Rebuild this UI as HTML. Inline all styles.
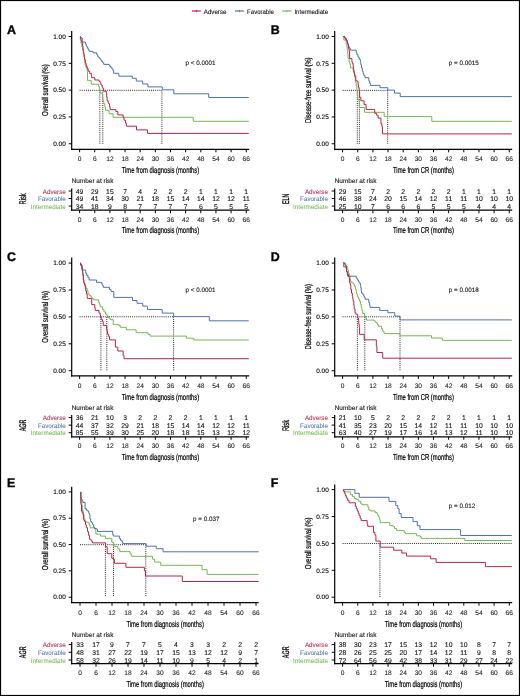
<!DOCTYPE html>
<html><head><meta charset="utf-8"><style>
html,body{margin:0;padding:0;background:#fff;}
body{width:520px;height:696px;overflow:hidden;}
svg{display:block;font-family:"Liberation Sans", sans-serif;filter:blur(0.35px);text-rendering:geometricPrecision;}
</style></head><body>
<svg width="520" height="696" viewBox="0 0 520 696">
<rect x="0.5" y="0.5" width="519" height="695" fill="#fff" stroke="#000" stroke-width="1.2"/>
<text x="6.90" y="34.00" font-size="12.4" text-anchor="start" fill="#000" stroke="#000" font-weight="bold" stroke-width="0.35" >A</text>
<line x1="71.70" y1="31.00" x2="71.70" y2="149.90" stroke="#000" stroke-width="1.2" />
<line x1="68.70" y1="143.75" x2="71.70" y2="143.75" stroke="#000" stroke-width="1.0" />
<text x="65.75" y="145.95" font-size="6.45" text-anchor="end" fill="#000" stroke="#000" font-weight="normal" stroke-width="0.1" >0.00</text>
<line x1="68.70" y1="116.94" x2="71.70" y2="116.94" stroke="#000" stroke-width="1.0" />
<text x="65.75" y="119.14" font-size="6.45" text-anchor="end" fill="#000" stroke="#000" font-weight="normal" stroke-width="0.1" >0.25</text>
<line x1="68.70" y1="90.12" x2="71.70" y2="90.12" stroke="#000" stroke-width="1.0" />
<text x="65.75" y="92.33" font-size="6.45" text-anchor="end" fill="#000" stroke="#000" font-weight="normal" stroke-width="0.1" >0.50</text>
<line x1="68.70" y1="63.31" x2="71.70" y2="63.31" stroke="#000" stroke-width="1.0" />
<text x="65.75" y="65.51" font-size="6.45" text-anchor="end" fill="#000" stroke="#000" font-weight="normal" stroke-width="0.1" >0.75</text>
<line x1="68.70" y1="36.50" x2="71.70" y2="36.50" stroke="#000" stroke-width="1.0" />
<text x="65.75" y="38.70" font-size="6.45" text-anchor="end" fill="#000" stroke="#000" font-weight="normal" stroke-width="0.1" >1.00</text>
<line x1="71.10" y1="149.30" x2="249.20" y2="149.30" stroke="#000" stroke-width="1.2" />
<line x1="79.60" y1="149.30" x2="79.60" y2="152.30" stroke="#000" stroke-width="1.0" />
<text x="79.60" y="161.40" font-size="6.6" text-anchor="middle" fill="#222" stroke="#222" font-weight="normal" stroke-width="0.1" >0</text>
<line x1="94.75" y1="149.30" x2="94.75" y2="152.30" stroke="#000" stroke-width="1.0" />
<text x="94.75" y="161.40" font-size="6.6" text-anchor="middle" fill="#222" stroke="#222" font-weight="normal" stroke-width="0.1" >6</text>
<line x1="109.90" y1="149.30" x2="109.90" y2="152.30" stroke="#000" stroke-width="1.0" />
<text x="109.90" y="161.40" font-size="6.6" text-anchor="middle" fill="#222" stroke="#222" font-weight="normal" stroke-width="0.1" >12</text>
<line x1="125.05" y1="149.30" x2="125.05" y2="152.30" stroke="#000" stroke-width="1.0" />
<text x="125.05" y="161.40" font-size="6.6" text-anchor="middle" fill="#222" stroke="#222" font-weight="normal" stroke-width="0.1" >18</text>
<line x1="140.20" y1="149.30" x2="140.20" y2="152.30" stroke="#000" stroke-width="1.0" />
<text x="140.20" y="161.40" font-size="6.6" text-anchor="middle" fill="#222" stroke="#222" font-weight="normal" stroke-width="0.1" >24</text>
<line x1="155.35" y1="149.30" x2="155.35" y2="152.30" stroke="#000" stroke-width="1.0" />
<text x="155.35" y="161.40" font-size="6.6" text-anchor="middle" fill="#222" stroke="#222" font-weight="normal" stroke-width="0.1" >30</text>
<line x1="170.50" y1="149.30" x2="170.50" y2="152.30" stroke="#000" stroke-width="1.0" />
<text x="170.50" y="161.40" font-size="6.6" text-anchor="middle" fill="#222" stroke="#222" font-weight="normal" stroke-width="0.1" >36</text>
<line x1="185.65" y1="149.30" x2="185.65" y2="152.30" stroke="#000" stroke-width="1.0" />
<text x="185.65" y="161.40" font-size="6.6" text-anchor="middle" fill="#222" stroke="#222" font-weight="normal" stroke-width="0.1" >42</text>
<line x1="200.80" y1="149.30" x2="200.80" y2="152.30" stroke="#000" stroke-width="1.0" />
<text x="200.80" y="161.40" font-size="6.6" text-anchor="middle" fill="#222" stroke="#222" font-weight="normal" stroke-width="0.1" >48</text>
<line x1="215.95" y1="149.30" x2="215.95" y2="152.30" stroke="#000" stroke-width="1.0" />
<text x="215.95" y="161.40" font-size="6.6" text-anchor="middle" fill="#222" stroke="#222" font-weight="normal" stroke-width="0.1" >54</text>
<line x1="231.10" y1="149.30" x2="231.10" y2="152.30" stroke="#000" stroke-width="1.0" />
<text x="231.10" y="161.40" font-size="6.6" text-anchor="middle" fill="#222" stroke="#222" font-weight="normal" stroke-width="0.1" >60</text>
<line x1="246.25" y1="149.30" x2="246.25" y2="152.30" stroke="#000" stroke-width="1.0" />
<text x="246.25" y="161.40" font-size="6.6" text-anchor="middle" fill="#222" stroke="#222" font-weight="normal" stroke-width="0.1" >66</text>
<text x="160.45" y="173.10" font-size="8.6" text-anchor="middle" fill="#000" stroke="#000" font-weight="normal" stroke-width="0.22" textLength="77.5" lengthAdjust="spacingAndGlyphs">Time from diagnosis (months)</text>
<text transform="translate(47.90,90.20) rotate(-90)" x="0" y="0" font-size="8.6" stroke="#000" stroke-width="0.22" text-anchor="middle" textLength="51.7" lengthAdjust="spacingAndGlyphs">Overall survival (%)</text>
<text x="185.60" y="65.30" font-size="6.3" text-anchor="start" fill="#111" stroke="#111" font-weight="normal" stroke-width="0.1" >p &lt; 0.0001</text>
<path d="M79.6,90.3H161.9" stroke="#111" stroke-width="0.9" stroke-dasharray="1,1.1" fill="none"/>
<path d="M99.8,90.3V143.75" stroke="#111" stroke-width="0.9" stroke-dasharray="1,1.1" fill="none"/>
<path d="M102.8,90.3V143.75" stroke="#111" stroke-width="0.9" stroke-dasharray="1,1.1" fill="none"/>
<path d="M161.9,90.3V143.75" stroke="#111" stroke-width="0.9" stroke-dasharray="1,1.1" fill="none"/>
<path d="M80.40,36.50H80.40V40.00H81.00V43.50H81.80V47.00H82.50V50.00H83.20V53.50H83.90V57.00H84.60V61.00H85.20V64.80H86.10V67.80H87.20V71.50H87.50V80.60H91.30V84.20H98.60V86.50H99.40V88.10H99.80V90.80H100.20V93.10H102.10V94.20H102.50V96.90H102.80V100.80H103.80V103.80H104.80V106.70H105.30V110.30H109.10V113.70H113.00V117.30H193.20V121.30H248.80V121.30" stroke="#74b854" stroke-width="1" fill="none"/>
<path d="M80.40,36.50H80.40V38.50H81.00V40.50H81.50V42.10H85.50V44.00H86.30V46.00H87.10V47.50H87.90V49.00H88.70V50.50H89.20V51.30H93.00V52.80H96.80V54.80H97.60V56.30H98.40V57.40H99.50V58.60H100.70V60.20H101.80V61.70H103.00V63.20H103.80V64.40H109.20V65.50H110.00V66.70H111.10V67.80H112.20V69.00H113.00V70.50H113.60V73.30H118.80V76.20H132.30V78.30H136.30V81.10H142.70V84.00H147.90V86.90H162.30V89.80H173.80V93.80H208.70V97.50H248.80V97.50" stroke="#5270aa" stroke-width="1" fill="none"/>
<path d="M80.40,36.50H80.50V37.50H81.50V38.20H82.20V42.50H82.60V46.00H83.00V49.40H83.40V51.60H83.80V54.00H84.20V56.70H84.50V59.40H85.30V63.20H86.10V66.30H87.20V68.60H88.10V70.50H88.60V71.50H89.80V73.50H91.30V75.40H91.70V77.70H94.80V80.00H99.00V81.50H100.20V82.70H100.90V85.00H102.10V86.90H102.80V88.50H103.60V91.20H106.30V93.10H106.70V96.90H107.10V100.80H108.20V103.10H108.70V103.80H109.60V106.70H110.10V109.60H115.90V111.50H117.80V114.90H123.10V117.30H124.00V120.20H125.50V123.10H126.40V126.20H136.50V129.90H147.60V133.40H248.80V133.40" stroke="#bb2347" stroke-width="1" fill="none"/>
<text x="71.70" y="183.40" font-size="6.45" text-anchor="start" fill="#111" stroke="#111" font-weight="normal" stroke-width="0.1" >Number at risk</text>
<line x1="71.70" y1="188.50" x2="71.70" y2="210.80" stroke="#000" stroke-width="1.2" />
<line x1="71.10" y1="210.20" x2="249.20" y2="210.20" stroke="#000" stroke-width="1.2" />
<line x1="79.60" y1="210.20" x2="79.60" y2="213.20" stroke="#000" stroke-width="1.0" />
<text x="79.60" y="221.80" font-size="6.6" text-anchor="middle" fill="#222" stroke="#222" font-weight="normal" stroke-width="0.1" >0</text>
<line x1="94.75" y1="210.20" x2="94.75" y2="213.20" stroke="#000" stroke-width="1.0" />
<text x="94.75" y="221.80" font-size="6.6" text-anchor="middle" fill="#222" stroke="#222" font-weight="normal" stroke-width="0.1" >6</text>
<line x1="109.90" y1="210.20" x2="109.90" y2="213.20" stroke="#000" stroke-width="1.0" />
<text x="109.90" y="221.80" font-size="6.6" text-anchor="middle" fill="#222" stroke="#222" font-weight="normal" stroke-width="0.1" >12</text>
<line x1="125.05" y1="210.20" x2="125.05" y2="213.20" stroke="#000" stroke-width="1.0" />
<text x="125.05" y="221.80" font-size="6.6" text-anchor="middle" fill="#222" stroke="#222" font-weight="normal" stroke-width="0.1" >18</text>
<line x1="140.20" y1="210.20" x2="140.20" y2="213.20" stroke="#000" stroke-width="1.0" />
<text x="140.20" y="221.80" font-size="6.6" text-anchor="middle" fill="#222" stroke="#222" font-weight="normal" stroke-width="0.1" >24</text>
<line x1="155.35" y1="210.20" x2="155.35" y2="213.20" stroke="#000" stroke-width="1.0" />
<text x="155.35" y="221.80" font-size="6.6" text-anchor="middle" fill="#222" stroke="#222" font-weight="normal" stroke-width="0.1" >30</text>
<line x1="170.50" y1="210.20" x2="170.50" y2="213.20" stroke="#000" stroke-width="1.0" />
<text x="170.50" y="221.80" font-size="6.6" text-anchor="middle" fill="#222" stroke="#222" font-weight="normal" stroke-width="0.1" >36</text>
<line x1="185.65" y1="210.20" x2="185.65" y2="213.20" stroke="#000" stroke-width="1.0" />
<text x="185.65" y="221.80" font-size="6.6" text-anchor="middle" fill="#222" stroke="#222" font-weight="normal" stroke-width="0.1" >42</text>
<line x1="200.80" y1="210.20" x2="200.80" y2="213.20" stroke="#000" stroke-width="1.0" />
<text x="200.80" y="221.80" font-size="6.6" text-anchor="middle" fill="#222" stroke="#222" font-weight="normal" stroke-width="0.1" >48</text>
<line x1="215.95" y1="210.20" x2="215.95" y2="213.20" stroke="#000" stroke-width="1.0" />
<text x="215.95" y="221.80" font-size="6.6" text-anchor="middle" fill="#222" stroke="#222" font-weight="normal" stroke-width="0.1" >54</text>
<line x1="231.10" y1="210.20" x2="231.10" y2="213.20" stroke="#000" stroke-width="1.0" />
<text x="231.10" y="221.80" font-size="6.6" text-anchor="middle" fill="#222" stroke="#222" font-weight="normal" stroke-width="0.1" >60</text>
<line x1="246.25" y1="210.20" x2="246.25" y2="213.20" stroke="#000" stroke-width="1.0" />
<text x="246.25" y="221.80" font-size="6.6" text-anchor="middle" fill="#222" stroke="#222" font-weight="normal" stroke-width="0.1" >66</text>
<line x1="68.70" y1="191.00" x2="71.70" y2="191.00" stroke="#000" stroke-width="1.0" />
<text x="65.80" y="193.75" font-size="6.55" text-anchor="end" fill="#bb2347" stroke="#bb2347" font-weight="normal" stroke-width="0.04" textLength="23.1" lengthAdjust="spacingAndGlyphs">Adverse</text>
<text x="79.60" y="193.70" font-size="6.8" text-anchor="middle" fill="#111" stroke="#111" font-weight="normal" stroke-width="0.1" >49</text>
<text x="94.75" y="193.70" font-size="6.8" text-anchor="middle" fill="#111" stroke="#111" font-weight="normal" stroke-width="0.1" >29</text>
<text x="109.90" y="193.70" font-size="6.8" text-anchor="middle" fill="#111" stroke="#111" font-weight="normal" stroke-width="0.1" >15</text>
<text x="125.05" y="193.70" font-size="6.8" text-anchor="middle" fill="#111" stroke="#111" font-weight="normal" stroke-width="0.1" >7</text>
<text x="140.20" y="193.70" font-size="6.8" text-anchor="middle" fill="#111" stroke="#111" font-weight="normal" stroke-width="0.1" >4</text>
<text x="155.35" y="193.70" font-size="6.8" text-anchor="middle" fill="#111" stroke="#111" font-weight="normal" stroke-width="0.1" >2</text>
<text x="170.50" y="193.70" font-size="6.8" text-anchor="middle" fill="#111" stroke="#111" font-weight="normal" stroke-width="0.1" >2</text>
<text x="185.65" y="193.70" font-size="6.8" text-anchor="middle" fill="#111" stroke="#111" font-weight="normal" stroke-width="0.1" >2</text>
<text x="200.80" y="193.70" font-size="6.8" text-anchor="middle" fill="#111" stroke="#111" font-weight="normal" stroke-width="0.1" >1</text>
<text x="215.95" y="193.70" font-size="6.8" text-anchor="middle" fill="#111" stroke="#111" font-weight="normal" stroke-width="0.1" >1</text>
<text x="231.10" y="193.70" font-size="6.8" text-anchor="middle" fill="#111" stroke="#111" font-weight="normal" stroke-width="0.1" >1</text>
<text x="246.25" y="193.70" font-size="6.8" text-anchor="middle" fill="#111" stroke="#111" font-weight="normal" stroke-width="0.1" >1</text>
<line x1="68.70" y1="198.50" x2="71.70" y2="198.50" stroke="#000" stroke-width="1.0" />
<text x="65.80" y="201.25" font-size="6.55" text-anchor="end" fill="#5270aa" stroke="#5270aa" font-weight="normal" stroke-width="0.04" textLength="27.9" lengthAdjust="spacingAndGlyphs">Favorable</text>
<text x="79.60" y="201.20" font-size="6.8" text-anchor="middle" fill="#111" stroke="#111" font-weight="normal" stroke-width="0.1" >49</text>
<text x="94.75" y="201.20" font-size="6.8" text-anchor="middle" fill="#111" stroke="#111" font-weight="normal" stroke-width="0.1" >41</text>
<text x="109.90" y="201.20" font-size="6.8" text-anchor="middle" fill="#111" stroke="#111" font-weight="normal" stroke-width="0.1" >34</text>
<text x="125.05" y="201.20" font-size="6.8" text-anchor="middle" fill="#111" stroke="#111" font-weight="normal" stroke-width="0.1" >30</text>
<text x="140.20" y="201.20" font-size="6.8" text-anchor="middle" fill="#111" stroke="#111" font-weight="normal" stroke-width="0.1" >21</text>
<text x="155.35" y="201.20" font-size="6.8" text-anchor="middle" fill="#111" stroke="#111" font-weight="normal" stroke-width="0.1" >18</text>
<text x="170.50" y="201.20" font-size="6.8" text-anchor="middle" fill="#111" stroke="#111" font-weight="normal" stroke-width="0.1" >15</text>
<text x="185.65" y="201.20" font-size="6.8" text-anchor="middle" fill="#111" stroke="#111" font-weight="normal" stroke-width="0.1" >14</text>
<text x="200.80" y="201.20" font-size="6.8" text-anchor="middle" fill="#111" stroke="#111" font-weight="normal" stroke-width="0.1" >14</text>
<text x="215.95" y="201.20" font-size="6.8" text-anchor="middle" fill="#111" stroke="#111" font-weight="normal" stroke-width="0.1" >12</text>
<text x="231.10" y="201.20" font-size="6.8" text-anchor="middle" fill="#111" stroke="#111" font-weight="normal" stroke-width="0.1" >12</text>
<text x="246.25" y="201.20" font-size="6.8" text-anchor="middle" fill="#111" stroke="#111" font-weight="normal" stroke-width="0.1" >11</text>
<line x1="68.70" y1="206.10" x2="71.70" y2="206.10" stroke="#000" stroke-width="1.0" />
<text x="65.80" y="208.85" font-size="6.55" text-anchor="end" fill="#74b854" stroke="#74b854" font-weight="normal" stroke-width="0.04" textLength="35.0" lengthAdjust="spacingAndGlyphs">Intermediate</text>
<text x="79.60" y="208.80" font-size="6.8" text-anchor="middle" fill="#111" stroke="#111" font-weight="normal" stroke-width="0.1" >34</text>
<text x="94.75" y="208.80" font-size="6.8" text-anchor="middle" fill="#111" stroke="#111" font-weight="normal" stroke-width="0.1" >18</text>
<text x="109.90" y="208.80" font-size="6.8" text-anchor="middle" fill="#111" stroke="#111" font-weight="normal" stroke-width="0.1" >9</text>
<text x="125.05" y="208.80" font-size="6.8" text-anchor="middle" fill="#111" stroke="#111" font-weight="normal" stroke-width="0.1" >8</text>
<text x="140.20" y="208.80" font-size="6.8" text-anchor="middle" fill="#111" stroke="#111" font-weight="normal" stroke-width="0.1" >7</text>
<text x="155.35" y="208.80" font-size="6.8" text-anchor="middle" fill="#111" stroke="#111" font-weight="normal" stroke-width="0.1" >7</text>
<text x="170.50" y="208.80" font-size="6.8" text-anchor="middle" fill="#111" stroke="#111" font-weight="normal" stroke-width="0.1" >7</text>
<text x="185.65" y="208.80" font-size="6.8" text-anchor="middle" fill="#111" stroke="#111" font-weight="normal" stroke-width="0.1" >7</text>
<text x="200.80" y="208.80" font-size="6.8" text-anchor="middle" fill="#111" stroke="#111" font-weight="normal" stroke-width="0.1" >6</text>
<text x="215.95" y="208.80" font-size="6.8" text-anchor="middle" fill="#111" stroke="#111" font-weight="normal" stroke-width="0.1" >5</text>
<text x="231.10" y="208.80" font-size="6.8" text-anchor="middle" fill="#111" stroke="#111" font-weight="normal" stroke-width="0.1" >5</text>
<text x="246.25" y="208.80" font-size="6.8" text-anchor="middle" fill="#111" stroke="#111" font-weight="normal" stroke-width="0.1" >5</text>
<text x="160.45" y="232.90" font-size="8.6" text-anchor="middle" fill="#000" stroke="#000" font-weight="normal" stroke-width="0.22" textLength="77.5" lengthAdjust="spacingAndGlyphs">Time from diagnosis (months)</text>
<text transform="translate(25.70,198.90) rotate(-90)" x="0" y="0" font-size="9.6" font-weight="normal" stroke="#000" stroke-width="0.3" text-anchor="middle" textLength="11.2" lengthAdjust="spacingAndGlyphs">Risk</text>
<text x="270.80" y="34.00" font-size="12.4" text-anchor="start" fill="#000" stroke="#000" font-weight="bold" stroke-width="0.35" >B</text>
<line x1="334.70" y1="31.00" x2="334.70" y2="149.90" stroke="#000" stroke-width="1.2" />
<line x1="331.70" y1="143.75" x2="334.70" y2="143.75" stroke="#000" stroke-width="1.0" />
<text x="328.75" y="145.95" font-size="6.45" text-anchor="end" fill="#000" stroke="#000" font-weight="normal" stroke-width="0.1" >0.00</text>
<line x1="331.70" y1="116.94" x2="334.70" y2="116.94" stroke="#000" stroke-width="1.0" />
<text x="328.75" y="119.14" font-size="6.45" text-anchor="end" fill="#000" stroke="#000" font-weight="normal" stroke-width="0.1" >0.25</text>
<line x1="331.70" y1="90.12" x2="334.70" y2="90.12" stroke="#000" stroke-width="1.0" />
<text x="328.75" y="92.33" font-size="6.45" text-anchor="end" fill="#000" stroke="#000" font-weight="normal" stroke-width="0.1" >0.50</text>
<line x1="331.70" y1="63.31" x2="334.70" y2="63.31" stroke="#000" stroke-width="1.0" />
<text x="328.75" y="65.51" font-size="6.45" text-anchor="end" fill="#000" stroke="#000" font-weight="normal" stroke-width="0.1" >0.75</text>
<line x1="331.70" y1="36.50" x2="334.70" y2="36.50" stroke="#000" stroke-width="1.0" />
<text x="328.75" y="38.70" font-size="6.45" text-anchor="end" fill="#000" stroke="#000" font-weight="normal" stroke-width="0.1" >1.00</text>
<line x1="334.10" y1="149.30" x2="512.20" y2="149.30" stroke="#000" stroke-width="1.2" />
<line x1="342.60" y1="149.30" x2="342.60" y2="152.30" stroke="#000" stroke-width="1.0" />
<text x="342.60" y="161.40" font-size="6.6" text-anchor="middle" fill="#222" stroke="#222" font-weight="normal" stroke-width="0.1" >0</text>
<line x1="357.75" y1="149.30" x2="357.75" y2="152.30" stroke="#000" stroke-width="1.0" />
<text x="357.75" y="161.40" font-size="6.6" text-anchor="middle" fill="#222" stroke="#222" font-weight="normal" stroke-width="0.1" >6</text>
<line x1="372.90" y1="149.30" x2="372.90" y2="152.30" stroke="#000" stroke-width="1.0" />
<text x="372.90" y="161.40" font-size="6.6" text-anchor="middle" fill="#222" stroke="#222" font-weight="normal" stroke-width="0.1" >12</text>
<line x1="388.05" y1="149.30" x2="388.05" y2="152.30" stroke="#000" stroke-width="1.0" />
<text x="388.05" y="161.40" font-size="6.6" text-anchor="middle" fill="#222" stroke="#222" font-weight="normal" stroke-width="0.1" >18</text>
<line x1="403.20" y1="149.30" x2="403.20" y2="152.30" stroke="#000" stroke-width="1.0" />
<text x="403.20" y="161.40" font-size="6.6" text-anchor="middle" fill="#222" stroke="#222" font-weight="normal" stroke-width="0.1" >24</text>
<line x1="418.35" y1="149.30" x2="418.35" y2="152.30" stroke="#000" stroke-width="1.0" />
<text x="418.35" y="161.40" font-size="6.6" text-anchor="middle" fill="#222" stroke="#222" font-weight="normal" stroke-width="0.1" >30</text>
<line x1="433.50" y1="149.30" x2="433.50" y2="152.30" stroke="#000" stroke-width="1.0" />
<text x="433.50" y="161.40" font-size="6.6" text-anchor="middle" fill="#222" stroke="#222" font-weight="normal" stroke-width="0.1" >36</text>
<line x1="448.65" y1="149.30" x2="448.65" y2="152.30" stroke="#000" stroke-width="1.0" />
<text x="448.65" y="161.40" font-size="6.6" text-anchor="middle" fill="#222" stroke="#222" font-weight="normal" stroke-width="0.1" >42</text>
<line x1="463.80" y1="149.30" x2="463.80" y2="152.30" stroke="#000" stroke-width="1.0" />
<text x="463.80" y="161.40" font-size="6.6" text-anchor="middle" fill="#222" stroke="#222" font-weight="normal" stroke-width="0.1" >48</text>
<line x1="478.95" y1="149.30" x2="478.95" y2="152.30" stroke="#000" stroke-width="1.0" />
<text x="478.95" y="161.40" font-size="6.6" text-anchor="middle" fill="#222" stroke="#222" font-weight="normal" stroke-width="0.1" >54</text>
<line x1="494.10" y1="149.30" x2="494.10" y2="152.30" stroke="#000" stroke-width="1.0" />
<text x="494.10" y="161.40" font-size="6.6" text-anchor="middle" fill="#222" stroke="#222" font-weight="normal" stroke-width="0.1" >60</text>
<line x1="509.25" y1="149.30" x2="509.25" y2="152.30" stroke="#000" stroke-width="1.0" />
<text x="509.25" y="161.40" font-size="6.6" text-anchor="middle" fill="#222" stroke="#222" font-weight="normal" stroke-width="0.1" >66</text>
<text x="423.45" y="173.10" font-size="8.6" text-anchor="middle" fill="#000" stroke="#000" font-weight="normal" stroke-width="0.22" textLength="60.9" lengthAdjust="spacingAndGlyphs">Time from CR (months)</text>
<text transform="translate(310.60,90.20) rotate(-90)" x="0" y="0" font-size="8.6" stroke="#000" stroke-width="0.22" text-anchor="middle" textLength="65.5" lengthAdjust="spacingAndGlyphs">Disease-free survival (%)</text>
<text x="448.80" y="65.30" font-size="6.3" text-anchor="start" fill="#111" stroke="#111" font-weight="normal" stroke-width="0.1" >p = 0.0015</text>
<path d="M342.6,90.4H387.7" stroke="#111" stroke-width="0.9" stroke-dasharray="1,1.1" fill="none"/>
<path d="M357.3,90.4V143.75" stroke="#111" stroke-width="0.9" stroke-dasharray="1,1.1" fill="none"/>
<path d="M359.4,90.4V143.75" stroke="#111" stroke-width="0.9" stroke-dasharray="1,1.1" fill="none"/>
<path d="M387.7,90.4V143.75" stroke="#111" stroke-width="0.9" stroke-dasharray="1,1.1" fill="none"/>
<path d="M343.40,36.50H343.80V40.20H346.20V44.00H346.90V47.10H347.30V49.40H347.70V54.00H348.10V58.60H349.20V62.50H350.00V64.80H350.40V67.80H353.10V70.20H353.80V72.50H354.20V74.00H355.00V77.70H355.40V82.30H356.20V85.40H356.90V90.00H357.30V95.40H357.70V99.20H358.80V100.80H359.30V107.50H364.60V112.30H384.20V116.60H431.80V121.30H511.80V121.30" stroke="#74b854" stroke-width="1" fill="none"/>
<path d="M343.40,36.50H344.20V37.40H345.40V38.60H346.50V40.50H347.30V42.50H347.70V44.40H348.10V46.30H349.20V47.80H350.00V49.00H350.40V50.20H356.20V52.50H356.90V54.80H358.10V57.10H359.20V59.40H360.40V61.70H360.80V64.80H361.50V67.80H362.30V71.30H363.10V73.50H363.80V75.40H365.00V77.70H368.80V80.80H369.60V83.10H370.40V85.40H380.00V87.70H387.80V90.10H394.50V93.10H400.20V96.60H511.80V96.60" stroke="#5270aa" stroke-width="1" fill="none"/>
<path d="M343.40,36.50H344.50V38.00H345.40V39.40H346.50V40.90H347.30V43.20H348.10V44.80H348.50V48.60H349.20V50.90H349.40V52.00H349.60V58.60H351.90V61.70H352.30V63.20H353.10V66.30H353.50V68.60H353.80V71.00H354.20V73.00H354.60V76.20H355.80V80.80H357.30V81.50H358.10V84.60H358.50V87.70H359.20V90.00H359.60V97.30H360.80V100.80H364.10V104.60H366.10V109.40H374.70V113.30H376.60V115.20H378.10V118.10H381.00V123.80H381.90V126.70H382.40V133.90H511.80V133.90" stroke="#bb2347" stroke-width="1" fill="none"/>
<text x="334.70" y="183.40" font-size="6.45" text-anchor="start" fill="#111" stroke="#111" font-weight="normal" stroke-width="0.1" >Number at risk</text>
<line x1="334.70" y1="188.50" x2="334.70" y2="210.80" stroke="#000" stroke-width="1.2" />
<line x1="334.10" y1="210.20" x2="512.20" y2="210.20" stroke="#000" stroke-width="1.2" />
<line x1="342.60" y1="210.20" x2="342.60" y2="213.20" stroke="#000" stroke-width="1.0" />
<text x="342.60" y="221.80" font-size="6.6" text-anchor="middle" fill="#222" stroke="#222" font-weight="normal" stroke-width="0.1" >0</text>
<line x1="357.75" y1="210.20" x2="357.75" y2="213.20" stroke="#000" stroke-width="1.0" />
<text x="357.75" y="221.80" font-size="6.6" text-anchor="middle" fill="#222" stroke="#222" font-weight="normal" stroke-width="0.1" >6</text>
<line x1="372.90" y1="210.20" x2="372.90" y2="213.20" stroke="#000" stroke-width="1.0" />
<text x="372.90" y="221.80" font-size="6.6" text-anchor="middle" fill="#222" stroke="#222" font-weight="normal" stroke-width="0.1" >12</text>
<line x1="388.05" y1="210.20" x2="388.05" y2="213.20" stroke="#000" stroke-width="1.0" />
<text x="388.05" y="221.80" font-size="6.6" text-anchor="middle" fill="#222" stroke="#222" font-weight="normal" stroke-width="0.1" >18</text>
<line x1="403.20" y1="210.20" x2="403.20" y2="213.20" stroke="#000" stroke-width="1.0" />
<text x="403.20" y="221.80" font-size="6.6" text-anchor="middle" fill="#222" stroke="#222" font-weight="normal" stroke-width="0.1" >24</text>
<line x1="418.35" y1="210.20" x2="418.35" y2="213.20" stroke="#000" stroke-width="1.0" />
<text x="418.35" y="221.80" font-size="6.6" text-anchor="middle" fill="#222" stroke="#222" font-weight="normal" stroke-width="0.1" >30</text>
<line x1="433.50" y1="210.20" x2="433.50" y2="213.20" stroke="#000" stroke-width="1.0" />
<text x="433.50" y="221.80" font-size="6.6" text-anchor="middle" fill="#222" stroke="#222" font-weight="normal" stroke-width="0.1" >36</text>
<line x1="448.65" y1="210.20" x2="448.65" y2="213.20" stroke="#000" stroke-width="1.0" />
<text x="448.65" y="221.80" font-size="6.6" text-anchor="middle" fill="#222" stroke="#222" font-weight="normal" stroke-width="0.1" >42</text>
<line x1="463.80" y1="210.20" x2="463.80" y2="213.20" stroke="#000" stroke-width="1.0" />
<text x="463.80" y="221.80" font-size="6.6" text-anchor="middle" fill="#222" stroke="#222" font-weight="normal" stroke-width="0.1" >48</text>
<line x1="478.95" y1="210.20" x2="478.95" y2="213.20" stroke="#000" stroke-width="1.0" />
<text x="478.95" y="221.80" font-size="6.6" text-anchor="middle" fill="#222" stroke="#222" font-weight="normal" stroke-width="0.1" >54</text>
<line x1="494.10" y1="210.20" x2="494.10" y2="213.20" stroke="#000" stroke-width="1.0" />
<text x="494.10" y="221.80" font-size="6.6" text-anchor="middle" fill="#222" stroke="#222" font-weight="normal" stroke-width="0.1" >60</text>
<line x1="509.25" y1="210.20" x2="509.25" y2="213.20" stroke="#000" stroke-width="1.0" />
<text x="509.25" y="221.80" font-size="6.6" text-anchor="middle" fill="#222" stroke="#222" font-weight="normal" stroke-width="0.1" >66</text>
<line x1="331.70" y1="191.00" x2="334.70" y2="191.00" stroke="#000" stroke-width="1.0" />
<text x="328.00" y="193.75" font-size="6.55" text-anchor="end" fill="#bb2347" stroke="#bb2347" font-weight="normal" stroke-width="0.04" textLength="23.1" lengthAdjust="spacingAndGlyphs">Adverse</text>
<text x="342.60" y="193.70" font-size="6.8" text-anchor="middle" fill="#111" stroke="#111" font-weight="normal" stroke-width="0.1" >29</text>
<text x="357.75" y="193.70" font-size="6.8" text-anchor="middle" fill="#111" stroke="#111" font-weight="normal" stroke-width="0.1" >15</text>
<text x="372.90" y="193.70" font-size="6.8" text-anchor="middle" fill="#111" stroke="#111" font-weight="normal" stroke-width="0.1" >7</text>
<text x="388.05" y="193.70" font-size="6.8" text-anchor="middle" fill="#111" stroke="#111" font-weight="normal" stroke-width="0.1" >2</text>
<text x="403.20" y="193.70" font-size="6.8" text-anchor="middle" fill="#111" stroke="#111" font-weight="normal" stroke-width="0.1" >2</text>
<text x="418.35" y="193.70" font-size="6.8" text-anchor="middle" fill="#111" stroke="#111" font-weight="normal" stroke-width="0.1" >2</text>
<text x="433.50" y="193.70" font-size="6.8" text-anchor="middle" fill="#111" stroke="#111" font-weight="normal" stroke-width="0.1" >2</text>
<text x="448.65" y="193.70" font-size="6.8" text-anchor="middle" fill="#111" stroke="#111" font-weight="normal" stroke-width="0.1" >2</text>
<text x="463.80" y="193.70" font-size="6.8" text-anchor="middle" fill="#111" stroke="#111" font-weight="normal" stroke-width="0.1" >1</text>
<text x="478.95" y="193.70" font-size="6.8" text-anchor="middle" fill="#111" stroke="#111" font-weight="normal" stroke-width="0.1" >1</text>
<text x="494.10" y="193.70" font-size="6.8" text-anchor="middle" fill="#111" stroke="#111" font-weight="normal" stroke-width="0.1" >1</text>
<text x="509.25" y="193.70" font-size="6.8" text-anchor="middle" fill="#111" stroke="#111" font-weight="normal" stroke-width="0.1" >1</text>
<line x1="331.70" y1="198.50" x2="334.70" y2="198.50" stroke="#000" stroke-width="1.0" />
<text x="328.00" y="201.25" font-size="6.55" text-anchor="end" fill="#5270aa" stroke="#5270aa" font-weight="normal" stroke-width="0.04" textLength="27.9" lengthAdjust="spacingAndGlyphs">Favorable</text>
<text x="342.60" y="201.20" font-size="6.8" text-anchor="middle" fill="#111" stroke="#111" font-weight="normal" stroke-width="0.1" >46</text>
<text x="357.75" y="201.20" font-size="6.8" text-anchor="middle" fill="#111" stroke="#111" font-weight="normal" stroke-width="0.1" >38</text>
<text x="372.90" y="201.20" font-size="6.8" text-anchor="middle" fill="#111" stroke="#111" font-weight="normal" stroke-width="0.1" >24</text>
<text x="388.05" y="201.20" font-size="6.8" text-anchor="middle" fill="#111" stroke="#111" font-weight="normal" stroke-width="0.1" >20</text>
<text x="403.20" y="201.20" font-size="6.8" text-anchor="middle" fill="#111" stroke="#111" font-weight="normal" stroke-width="0.1" >15</text>
<text x="418.35" y="201.20" font-size="6.8" text-anchor="middle" fill="#111" stroke="#111" font-weight="normal" stroke-width="0.1" >14</text>
<text x="433.50" y="201.20" font-size="6.8" text-anchor="middle" fill="#111" stroke="#111" font-weight="normal" stroke-width="0.1" >12</text>
<text x="448.65" y="201.20" font-size="6.8" text-anchor="middle" fill="#111" stroke="#111" font-weight="normal" stroke-width="0.1" >11</text>
<text x="463.80" y="201.20" font-size="6.8" text-anchor="middle" fill="#111" stroke="#111" font-weight="normal" stroke-width="0.1" >11</text>
<text x="478.95" y="201.20" font-size="6.8" text-anchor="middle" fill="#111" stroke="#111" font-weight="normal" stroke-width="0.1" >10</text>
<text x="494.10" y="201.20" font-size="6.8" text-anchor="middle" fill="#111" stroke="#111" font-weight="normal" stroke-width="0.1" >10</text>
<text x="509.25" y="201.20" font-size="6.8" text-anchor="middle" fill="#111" stroke="#111" font-weight="normal" stroke-width="0.1" >10</text>
<line x1="331.70" y1="206.10" x2="334.70" y2="206.10" stroke="#000" stroke-width="1.0" />
<text x="328.00" y="208.85" font-size="6.55" text-anchor="end" fill="#74b854" stroke="#74b854" font-weight="normal" stroke-width="0.04" textLength="35.0" lengthAdjust="spacingAndGlyphs">Intermediate</text>
<text x="342.60" y="208.80" font-size="6.8" text-anchor="middle" fill="#111" stroke="#111" font-weight="normal" stroke-width="0.1" >25</text>
<text x="357.75" y="208.80" font-size="6.8" text-anchor="middle" fill="#111" stroke="#111" font-weight="normal" stroke-width="0.1" >10</text>
<text x="372.90" y="208.80" font-size="6.8" text-anchor="middle" fill="#111" stroke="#111" font-weight="normal" stroke-width="0.1" >7</text>
<text x="388.05" y="208.80" font-size="6.8" text-anchor="middle" fill="#111" stroke="#111" font-weight="normal" stroke-width="0.1" >6</text>
<text x="403.20" y="208.80" font-size="6.8" text-anchor="middle" fill="#111" stroke="#111" font-weight="normal" stroke-width="0.1" >6</text>
<text x="418.35" y="208.80" font-size="6.8" text-anchor="middle" fill="#111" stroke="#111" font-weight="normal" stroke-width="0.1" >6</text>
<text x="433.50" y="208.80" font-size="6.8" text-anchor="middle" fill="#111" stroke="#111" font-weight="normal" stroke-width="0.1" >5</text>
<text x="448.65" y="208.80" font-size="6.8" text-anchor="middle" fill="#111" stroke="#111" font-weight="normal" stroke-width="0.1" >5</text>
<text x="463.80" y="208.80" font-size="6.8" text-anchor="middle" fill="#111" stroke="#111" font-weight="normal" stroke-width="0.1" >5</text>
<text x="478.95" y="208.80" font-size="6.8" text-anchor="middle" fill="#111" stroke="#111" font-weight="normal" stroke-width="0.1" >4</text>
<text x="494.10" y="208.80" font-size="6.8" text-anchor="middle" fill="#111" stroke="#111" font-weight="normal" stroke-width="0.1" >4</text>
<text x="509.25" y="208.80" font-size="6.8" text-anchor="middle" fill="#111" stroke="#111" font-weight="normal" stroke-width="0.1" >4</text>
<text x="423.45" y="232.90" font-size="8.6" text-anchor="middle" fill="#000" stroke="#000" font-weight="normal" stroke-width="0.22" textLength="60.9" lengthAdjust="spacingAndGlyphs">Time from CR (months)</text>
<text transform="translate(288.70,198.90) rotate(-90)" x="0" y="0" font-size="9.6" font-weight="normal" stroke="#000" stroke-width="0.3" text-anchor="middle" textLength="10.1" lengthAdjust="spacingAndGlyphs">ELN</text>
<text x="6.90" y="260.60" font-size="12.4" text-anchor="start" fill="#000" stroke="#000" font-weight="bold" stroke-width="0.35" >C</text>
<line x1="71.70" y1="257.60" x2="71.70" y2="376.50" stroke="#000" stroke-width="1.2" />
<line x1="68.70" y1="370.70" x2="71.70" y2="370.70" stroke="#000" stroke-width="1.0" />
<text x="65.75" y="372.90" font-size="6.45" text-anchor="end" fill="#000" stroke="#000" font-weight="normal" stroke-width="0.1" >0.00</text>
<line x1="68.70" y1="343.80" x2="71.70" y2="343.80" stroke="#000" stroke-width="1.0" />
<text x="65.75" y="346.00" font-size="6.45" text-anchor="end" fill="#000" stroke="#000" font-weight="normal" stroke-width="0.1" >0.25</text>
<line x1="68.70" y1="316.90" x2="71.70" y2="316.90" stroke="#000" stroke-width="1.0" />
<text x="65.75" y="319.10" font-size="6.45" text-anchor="end" fill="#000" stroke="#000" font-weight="normal" stroke-width="0.1" >0.50</text>
<line x1="68.70" y1="290.00" x2="71.70" y2="290.00" stroke="#000" stroke-width="1.0" />
<text x="65.75" y="292.20" font-size="6.45" text-anchor="end" fill="#000" stroke="#000" font-weight="normal" stroke-width="0.1" >0.75</text>
<line x1="68.70" y1="263.10" x2="71.70" y2="263.10" stroke="#000" stroke-width="1.0" />
<text x="65.75" y="265.30" font-size="6.45" text-anchor="end" fill="#000" stroke="#000" font-weight="normal" stroke-width="0.1" >1.00</text>
<line x1="71.10" y1="375.90" x2="249.20" y2="375.90" stroke="#000" stroke-width="1.2" />
<line x1="79.60" y1="375.90" x2="79.60" y2="378.90" stroke="#000" stroke-width="1.0" />
<text x="79.60" y="388.00" font-size="6.6" text-anchor="middle" fill="#222" stroke="#222" font-weight="normal" stroke-width="0.1" >0</text>
<line x1="94.75" y1="375.90" x2="94.75" y2="378.90" stroke="#000" stroke-width="1.0" />
<text x="94.75" y="388.00" font-size="6.6" text-anchor="middle" fill="#222" stroke="#222" font-weight="normal" stroke-width="0.1" >6</text>
<line x1="109.90" y1="375.90" x2="109.90" y2="378.90" stroke="#000" stroke-width="1.0" />
<text x="109.90" y="388.00" font-size="6.6" text-anchor="middle" fill="#222" stroke="#222" font-weight="normal" stroke-width="0.1" >12</text>
<line x1="125.05" y1="375.90" x2="125.05" y2="378.90" stroke="#000" stroke-width="1.0" />
<text x="125.05" y="388.00" font-size="6.6" text-anchor="middle" fill="#222" stroke="#222" font-weight="normal" stroke-width="0.1" >18</text>
<line x1="140.20" y1="375.90" x2="140.20" y2="378.90" stroke="#000" stroke-width="1.0" />
<text x="140.20" y="388.00" font-size="6.6" text-anchor="middle" fill="#222" stroke="#222" font-weight="normal" stroke-width="0.1" >24</text>
<line x1="155.35" y1="375.90" x2="155.35" y2="378.90" stroke="#000" stroke-width="1.0" />
<text x="155.35" y="388.00" font-size="6.6" text-anchor="middle" fill="#222" stroke="#222" font-weight="normal" stroke-width="0.1" >30</text>
<line x1="170.50" y1="375.90" x2="170.50" y2="378.90" stroke="#000" stroke-width="1.0" />
<text x="170.50" y="388.00" font-size="6.6" text-anchor="middle" fill="#222" stroke="#222" font-weight="normal" stroke-width="0.1" >36</text>
<line x1="185.65" y1="375.90" x2="185.65" y2="378.90" stroke="#000" stroke-width="1.0" />
<text x="185.65" y="388.00" font-size="6.6" text-anchor="middle" fill="#222" stroke="#222" font-weight="normal" stroke-width="0.1" >42</text>
<line x1="200.80" y1="375.90" x2="200.80" y2="378.90" stroke="#000" stroke-width="1.0" />
<text x="200.80" y="388.00" font-size="6.6" text-anchor="middle" fill="#222" stroke="#222" font-weight="normal" stroke-width="0.1" >48</text>
<line x1="215.95" y1="375.90" x2="215.95" y2="378.90" stroke="#000" stroke-width="1.0" />
<text x="215.95" y="388.00" font-size="6.6" text-anchor="middle" fill="#222" stroke="#222" font-weight="normal" stroke-width="0.1" >54</text>
<line x1="231.10" y1="375.90" x2="231.10" y2="378.90" stroke="#000" stroke-width="1.0" />
<text x="231.10" y="388.00" font-size="6.6" text-anchor="middle" fill="#222" stroke="#222" font-weight="normal" stroke-width="0.1" >60</text>
<line x1="246.25" y1="375.90" x2="246.25" y2="378.90" stroke="#000" stroke-width="1.0" />
<text x="246.25" y="388.00" font-size="6.6" text-anchor="middle" fill="#222" stroke="#222" font-weight="normal" stroke-width="0.1" >66</text>
<text x="160.45" y="399.70" font-size="8.6" text-anchor="middle" fill="#000" stroke="#000" font-weight="normal" stroke-width="0.22" textLength="77.5" lengthAdjust="spacingAndGlyphs">Time from diagnosis (months)</text>
<text transform="translate(47.90,316.80) rotate(-90)" x="0" y="0" font-size="8.6" stroke="#000" stroke-width="0.22" text-anchor="middle" textLength="51.7" lengthAdjust="spacingAndGlyphs">Overall survival (%)</text>
<text x="185.60" y="291.90" font-size="6.3" text-anchor="start" fill="#111" stroke="#111" font-weight="normal" stroke-width="0.1" >p &lt; 0.0001</text>
<path d="M79.6,316.8H173.6" stroke="#111" stroke-width="0.9" stroke-dasharray="1,1.1" fill="none"/>
<path d="M100.9,316.8V370.7" stroke="#111" stroke-width="0.9" stroke-dasharray="1,1.1" fill="none"/>
<path d="M106.8,316.8V370.7" stroke="#111" stroke-width="0.9" stroke-dasharray="1,1.1" fill="none"/>
<path d="M173.6,316.8V370.7" stroke="#111" stroke-width="0.9" stroke-dasharray="1,1.1" fill="none"/>
<path d="M80.40,262.80H80.50V265.40H81.50V268.00H82.20V271.00H82.60V275.40H83.20V279.50H83.80V283.10H84.90V286.20H86.10V288.50H87.20V290.80H88.00V293.80H89.20V295.40H90.70V296.50H91.30V297.50H92.20V298.50H93.40V299.80H98.60V302.30H99.40V304.20H100.20V306.90H102.50V309.60H104.00V311.90H105.50V314.20H107.10V316.20H108.60V318.10H110.20V319.60H113.20V324.40H118.60V325.40H120.20V327.30H126.40V329.80H136.10V332.70H148.10V334.40H150.10V336.10H186.40V338.20H193.80V340.00H248.80V340.00" stroke="#74b854" stroke-width="1" fill="none"/>
<path d="M80.40,262.80H80.40V263.50H80.70V265.40H81.50V267.70H82.20V270.00H85.70V273.10H86.80V275.40H88.00V277.70H89.20V280.00H96.50V282.30H101.80V284.20H102.60V285.80H103.40V287.30H109.50V289.60H111.10V291.50H113.80V297.40H132.50V300.50H137.00V303.30H142.70V306.10H147.40V309.50H162.20V313.10H173.60V316.60H209.30V320.80H248.80V320.80" stroke="#5270aa" stroke-width="1" fill="none"/>
<path d="M80.40,262.80H80.50V264.00H81.50V265.40H82.20V270.00H82.60V272.70H83.00V275.40H83.40V280.00H83.80V283.10H84.50V284.60H85.30V287.70H85.70V290.80H86.50V293.80H87.20V297.70H87.50V298.50H91.70V304.60H94.80V307.70H95.20V310.40H99.00V313.10H100.20V315.00H100.50V317.30H101.30V319.60H102.50V321.50H103.20V325.40H106.70V328.80H107.10V331.20H107.50V334.20H108.70V336.50H109.60V339.90H115.40V347.10H117.80V351.00H123.10V355.30H124.00V358.70H248.80V358.70" stroke="#bb2347" stroke-width="1" fill="none"/>
<text x="71.70" y="410.00" font-size="6.45" text-anchor="start" fill="#111" stroke="#111" font-weight="normal" stroke-width="0.1" >Number at risk</text>
<line x1="71.70" y1="415.10" x2="71.70" y2="437.40" stroke="#000" stroke-width="1.2" />
<line x1="71.10" y1="436.80" x2="249.20" y2="436.80" stroke="#000" stroke-width="1.2" />
<line x1="79.60" y1="436.80" x2="79.60" y2="439.80" stroke="#000" stroke-width="1.0" />
<text x="79.60" y="448.40" font-size="6.6" text-anchor="middle" fill="#222" stroke="#222" font-weight="normal" stroke-width="0.1" >0</text>
<line x1="94.75" y1="436.80" x2="94.75" y2="439.80" stroke="#000" stroke-width="1.0" />
<text x="94.75" y="448.40" font-size="6.6" text-anchor="middle" fill="#222" stroke="#222" font-weight="normal" stroke-width="0.1" >6</text>
<line x1="109.90" y1="436.80" x2="109.90" y2="439.80" stroke="#000" stroke-width="1.0" />
<text x="109.90" y="448.40" font-size="6.6" text-anchor="middle" fill="#222" stroke="#222" font-weight="normal" stroke-width="0.1" >12</text>
<line x1="125.05" y1="436.80" x2="125.05" y2="439.80" stroke="#000" stroke-width="1.0" />
<text x="125.05" y="448.40" font-size="6.6" text-anchor="middle" fill="#222" stroke="#222" font-weight="normal" stroke-width="0.1" >18</text>
<line x1="140.20" y1="436.80" x2="140.20" y2="439.80" stroke="#000" stroke-width="1.0" />
<text x="140.20" y="448.40" font-size="6.6" text-anchor="middle" fill="#222" stroke="#222" font-weight="normal" stroke-width="0.1" >24</text>
<line x1="155.35" y1="436.80" x2="155.35" y2="439.80" stroke="#000" stroke-width="1.0" />
<text x="155.35" y="448.40" font-size="6.6" text-anchor="middle" fill="#222" stroke="#222" font-weight="normal" stroke-width="0.1" >30</text>
<line x1="170.50" y1="436.80" x2="170.50" y2="439.80" stroke="#000" stroke-width="1.0" />
<text x="170.50" y="448.40" font-size="6.6" text-anchor="middle" fill="#222" stroke="#222" font-weight="normal" stroke-width="0.1" >36</text>
<line x1="185.65" y1="436.80" x2="185.65" y2="439.80" stroke="#000" stroke-width="1.0" />
<text x="185.65" y="448.40" font-size="6.6" text-anchor="middle" fill="#222" stroke="#222" font-weight="normal" stroke-width="0.1" >42</text>
<line x1="200.80" y1="436.80" x2="200.80" y2="439.80" stroke="#000" stroke-width="1.0" />
<text x="200.80" y="448.40" font-size="6.6" text-anchor="middle" fill="#222" stroke="#222" font-weight="normal" stroke-width="0.1" >48</text>
<line x1="215.95" y1="436.80" x2="215.95" y2="439.80" stroke="#000" stroke-width="1.0" />
<text x="215.95" y="448.40" font-size="6.6" text-anchor="middle" fill="#222" stroke="#222" font-weight="normal" stroke-width="0.1" >54</text>
<line x1="231.10" y1="436.80" x2="231.10" y2="439.80" stroke="#000" stroke-width="1.0" />
<text x="231.10" y="448.40" font-size="6.6" text-anchor="middle" fill="#222" stroke="#222" font-weight="normal" stroke-width="0.1" >60</text>
<line x1="246.25" y1="436.80" x2="246.25" y2="439.80" stroke="#000" stroke-width="1.0" />
<text x="246.25" y="448.40" font-size="6.6" text-anchor="middle" fill="#222" stroke="#222" font-weight="normal" stroke-width="0.1" >66</text>
<line x1="68.70" y1="417.60" x2="71.70" y2="417.60" stroke="#000" stroke-width="1.0" />
<text x="65.80" y="420.35" font-size="6.55" text-anchor="end" fill="#bb2347" stroke="#bb2347" font-weight="normal" stroke-width="0.04" textLength="23.1" lengthAdjust="spacingAndGlyphs">Adverse</text>
<text x="79.60" y="420.30" font-size="6.8" text-anchor="middle" fill="#111" stroke="#111" font-weight="normal" stroke-width="0.1" >36</text>
<text x="94.75" y="420.30" font-size="6.8" text-anchor="middle" fill="#111" stroke="#111" font-weight="normal" stroke-width="0.1" >21</text>
<text x="109.90" y="420.30" font-size="6.8" text-anchor="middle" fill="#111" stroke="#111" font-weight="normal" stroke-width="0.1" >10</text>
<text x="125.05" y="420.30" font-size="6.8" text-anchor="middle" fill="#111" stroke="#111" font-weight="normal" stroke-width="0.1" >3</text>
<text x="140.20" y="420.30" font-size="6.8" text-anchor="middle" fill="#111" stroke="#111" font-weight="normal" stroke-width="0.1" >2</text>
<text x="155.35" y="420.30" font-size="6.8" text-anchor="middle" fill="#111" stroke="#111" font-weight="normal" stroke-width="0.1" >2</text>
<text x="170.50" y="420.30" font-size="6.8" text-anchor="middle" fill="#111" stroke="#111" font-weight="normal" stroke-width="0.1" >2</text>
<text x="185.65" y="420.30" font-size="6.8" text-anchor="middle" fill="#111" stroke="#111" font-weight="normal" stroke-width="0.1" >2</text>
<text x="200.80" y="420.30" font-size="6.8" text-anchor="middle" fill="#111" stroke="#111" font-weight="normal" stroke-width="0.1" >1</text>
<text x="215.95" y="420.30" font-size="6.8" text-anchor="middle" fill="#111" stroke="#111" font-weight="normal" stroke-width="0.1" >1</text>
<text x="231.10" y="420.30" font-size="6.8" text-anchor="middle" fill="#111" stroke="#111" font-weight="normal" stroke-width="0.1" >1</text>
<text x="246.25" y="420.30" font-size="6.8" text-anchor="middle" fill="#111" stroke="#111" font-weight="normal" stroke-width="0.1" >1</text>
<line x1="68.70" y1="425.10" x2="71.70" y2="425.10" stroke="#000" stroke-width="1.0" />
<text x="65.80" y="427.85" font-size="6.55" text-anchor="end" fill="#5270aa" stroke="#5270aa" font-weight="normal" stroke-width="0.04" textLength="27.9" lengthAdjust="spacingAndGlyphs">Favorable</text>
<text x="79.60" y="427.80" font-size="6.8" text-anchor="middle" fill="#111" stroke="#111" font-weight="normal" stroke-width="0.1" >44</text>
<text x="94.75" y="427.80" font-size="6.8" text-anchor="middle" fill="#111" stroke="#111" font-weight="normal" stroke-width="0.1" >37</text>
<text x="109.90" y="427.80" font-size="6.8" text-anchor="middle" fill="#111" stroke="#111" font-weight="normal" stroke-width="0.1" >32</text>
<text x="125.05" y="427.80" font-size="6.8" text-anchor="middle" fill="#111" stroke="#111" font-weight="normal" stroke-width="0.1" >29</text>
<text x="140.20" y="427.80" font-size="6.8" text-anchor="middle" fill="#111" stroke="#111" font-weight="normal" stroke-width="0.1" >21</text>
<text x="155.35" y="427.80" font-size="6.8" text-anchor="middle" fill="#111" stroke="#111" font-weight="normal" stroke-width="0.1" >18</text>
<text x="170.50" y="427.80" font-size="6.8" text-anchor="middle" fill="#111" stroke="#111" font-weight="normal" stroke-width="0.1" >15</text>
<text x="185.65" y="427.80" font-size="6.8" text-anchor="middle" fill="#111" stroke="#111" font-weight="normal" stroke-width="0.1" >14</text>
<text x="200.80" y="427.80" font-size="6.8" text-anchor="middle" fill="#111" stroke="#111" font-weight="normal" stroke-width="0.1" >14</text>
<text x="215.95" y="427.80" font-size="6.8" text-anchor="middle" fill="#111" stroke="#111" font-weight="normal" stroke-width="0.1" >12</text>
<text x="231.10" y="427.80" font-size="6.8" text-anchor="middle" fill="#111" stroke="#111" font-weight="normal" stroke-width="0.1" >12</text>
<text x="246.25" y="427.80" font-size="6.8" text-anchor="middle" fill="#111" stroke="#111" font-weight="normal" stroke-width="0.1" >11</text>
<line x1="68.70" y1="432.70" x2="71.70" y2="432.70" stroke="#000" stroke-width="1.0" />
<text x="65.80" y="435.45" font-size="6.55" text-anchor="end" fill="#74b854" stroke="#74b854" font-weight="normal" stroke-width="0.04" textLength="35.0" lengthAdjust="spacingAndGlyphs">Intermediate</text>
<text x="79.60" y="435.40" font-size="6.8" text-anchor="middle" fill="#111" stroke="#111" font-weight="normal" stroke-width="0.1" >85</text>
<text x="94.75" y="435.40" font-size="6.8" text-anchor="middle" fill="#111" stroke="#111" font-weight="normal" stroke-width="0.1" >55</text>
<text x="109.90" y="435.40" font-size="6.8" text-anchor="middle" fill="#111" stroke="#111" font-weight="normal" stroke-width="0.1" >39</text>
<text x="125.05" y="435.40" font-size="6.8" text-anchor="middle" fill="#111" stroke="#111" font-weight="normal" stroke-width="0.1" >30</text>
<text x="140.20" y="435.40" font-size="6.8" text-anchor="middle" fill="#111" stroke="#111" font-weight="normal" stroke-width="0.1" >25</text>
<text x="155.35" y="435.40" font-size="6.8" text-anchor="middle" fill="#111" stroke="#111" font-weight="normal" stroke-width="0.1" >20</text>
<text x="170.50" y="435.40" font-size="6.8" text-anchor="middle" fill="#111" stroke="#111" font-weight="normal" stroke-width="0.1" >18</text>
<text x="185.65" y="435.40" font-size="6.8" text-anchor="middle" fill="#111" stroke="#111" font-weight="normal" stroke-width="0.1" >18</text>
<text x="200.80" y="435.40" font-size="6.8" text-anchor="middle" fill="#111" stroke="#111" font-weight="normal" stroke-width="0.1" >15</text>
<text x="215.95" y="435.40" font-size="6.8" text-anchor="middle" fill="#111" stroke="#111" font-weight="normal" stroke-width="0.1" >13</text>
<text x="231.10" y="435.40" font-size="6.8" text-anchor="middle" fill="#111" stroke="#111" font-weight="normal" stroke-width="0.1" >12</text>
<text x="246.25" y="435.40" font-size="6.8" text-anchor="middle" fill="#111" stroke="#111" font-weight="normal" stroke-width="0.1" >12</text>
<text x="160.45" y="459.50" font-size="8.6" text-anchor="middle" fill="#000" stroke="#000" font-weight="normal" stroke-width="0.22" textLength="77.5" lengthAdjust="spacingAndGlyphs">Time from diagnosis (months)</text>
<text transform="translate(25.70,425.50) rotate(-90)" x="0" y="0" font-size="9.6" font-weight="normal" stroke="#000" stroke-width="0.3" text-anchor="middle" textLength="11.7" lengthAdjust="spacingAndGlyphs">AGR</text>
<text x="270.80" y="260.60" font-size="12.4" text-anchor="start" fill="#000" stroke="#000" font-weight="bold" stroke-width="0.35" >D</text>
<line x1="334.70" y1="257.60" x2="334.70" y2="376.50" stroke="#000" stroke-width="1.2" />
<line x1="331.70" y1="370.70" x2="334.70" y2="370.70" stroke="#000" stroke-width="1.0" />
<text x="328.75" y="372.90" font-size="6.45" text-anchor="end" fill="#000" stroke="#000" font-weight="normal" stroke-width="0.1" >0.00</text>
<line x1="331.70" y1="343.80" x2="334.70" y2="343.80" stroke="#000" stroke-width="1.0" />
<text x="328.75" y="346.00" font-size="6.45" text-anchor="end" fill="#000" stroke="#000" font-weight="normal" stroke-width="0.1" >0.25</text>
<line x1="331.70" y1="316.90" x2="334.70" y2="316.90" stroke="#000" stroke-width="1.0" />
<text x="328.75" y="319.10" font-size="6.45" text-anchor="end" fill="#000" stroke="#000" font-weight="normal" stroke-width="0.1" >0.50</text>
<line x1="331.70" y1="290.00" x2="334.70" y2="290.00" stroke="#000" stroke-width="1.0" />
<text x="328.75" y="292.20" font-size="6.45" text-anchor="end" fill="#000" stroke="#000" font-weight="normal" stroke-width="0.1" >0.75</text>
<line x1="331.70" y1="263.10" x2="334.70" y2="263.10" stroke="#000" stroke-width="1.0" />
<text x="328.75" y="265.30" font-size="6.45" text-anchor="end" fill="#000" stroke="#000" font-weight="normal" stroke-width="0.1" >1.00</text>
<line x1="334.10" y1="375.90" x2="512.20" y2="375.90" stroke="#000" stroke-width="1.2" />
<line x1="342.60" y1="375.90" x2="342.60" y2="378.90" stroke="#000" stroke-width="1.0" />
<text x="342.60" y="388.00" font-size="6.6" text-anchor="middle" fill="#222" stroke="#222" font-weight="normal" stroke-width="0.1" >0</text>
<line x1="357.75" y1="375.90" x2="357.75" y2="378.90" stroke="#000" stroke-width="1.0" />
<text x="357.75" y="388.00" font-size="6.6" text-anchor="middle" fill="#222" stroke="#222" font-weight="normal" stroke-width="0.1" >6</text>
<line x1="372.90" y1="375.90" x2="372.90" y2="378.90" stroke="#000" stroke-width="1.0" />
<text x="372.90" y="388.00" font-size="6.6" text-anchor="middle" fill="#222" stroke="#222" font-weight="normal" stroke-width="0.1" >12</text>
<line x1="388.05" y1="375.90" x2="388.05" y2="378.90" stroke="#000" stroke-width="1.0" />
<text x="388.05" y="388.00" font-size="6.6" text-anchor="middle" fill="#222" stroke="#222" font-weight="normal" stroke-width="0.1" >18</text>
<line x1="403.20" y1="375.90" x2="403.20" y2="378.90" stroke="#000" stroke-width="1.0" />
<text x="403.20" y="388.00" font-size="6.6" text-anchor="middle" fill="#222" stroke="#222" font-weight="normal" stroke-width="0.1" >24</text>
<line x1="418.35" y1="375.90" x2="418.35" y2="378.90" stroke="#000" stroke-width="1.0" />
<text x="418.35" y="388.00" font-size="6.6" text-anchor="middle" fill="#222" stroke="#222" font-weight="normal" stroke-width="0.1" >30</text>
<line x1="433.50" y1="375.90" x2="433.50" y2="378.90" stroke="#000" stroke-width="1.0" />
<text x="433.50" y="388.00" font-size="6.6" text-anchor="middle" fill="#222" stroke="#222" font-weight="normal" stroke-width="0.1" >36</text>
<line x1="448.65" y1="375.90" x2="448.65" y2="378.90" stroke="#000" stroke-width="1.0" />
<text x="448.65" y="388.00" font-size="6.6" text-anchor="middle" fill="#222" stroke="#222" font-weight="normal" stroke-width="0.1" >42</text>
<line x1="463.80" y1="375.90" x2="463.80" y2="378.90" stroke="#000" stroke-width="1.0" />
<text x="463.80" y="388.00" font-size="6.6" text-anchor="middle" fill="#222" stroke="#222" font-weight="normal" stroke-width="0.1" >48</text>
<line x1="478.95" y1="375.90" x2="478.95" y2="378.90" stroke="#000" stroke-width="1.0" />
<text x="478.95" y="388.00" font-size="6.6" text-anchor="middle" fill="#222" stroke="#222" font-weight="normal" stroke-width="0.1" >54</text>
<line x1="494.10" y1="375.90" x2="494.10" y2="378.90" stroke="#000" stroke-width="1.0" />
<text x="494.10" y="388.00" font-size="6.6" text-anchor="middle" fill="#222" stroke="#222" font-weight="normal" stroke-width="0.1" >60</text>
<line x1="509.25" y1="375.90" x2="509.25" y2="378.90" stroke="#000" stroke-width="1.0" />
<text x="509.25" y="388.00" font-size="6.6" text-anchor="middle" fill="#222" stroke="#222" font-weight="normal" stroke-width="0.1" >66</text>
<text x="423.45" y="399.70" font-size="8.6" text-anchor="middle" fill="#000" stroke="#000" font-weight="normal" stroke-width="0.22" textLength="60.9" lengthAdjust="spacingAndGlyphs">Time from CR (months)</text>
<text transform="translate(310.60,316.80) rotate(-90)" x="0" y="0" font-size="8.6" stroke="#000" stroke-width="0.22" text-anchor="middle" textLength="65.5" lengthAdjust="spacingAndGlyphs">Disease-free survival (%)</text>
<text x="448.80" y="291.90" font-size="6.3" text-anchor="start" fill="#111" stroke="#111" font-weight="normal" stroke-width="0.1" >p = 0.0018</text>
<path d="M342.6,316.8H400" stroke="#111" stroke-width="0.9" stroke-dasharray="1,1.1" fill="none"/>
<path d="M357.4,316.8V370.7" stroke="#111" stroke-width="0.9" stroke-dasharray="1,1.1" fill="none"/>
<path d="M364.8,316.8V370.7" stroke="#111" stroke-width="0.9" stroke-dasharray="1,1.1" fill="none"/>
<path d="M400,316.8V370.7" stroke="#111" stroke-width="0.9" stroke-dasharray="1,1.1" fill="none"/>
<path d="M343.40,262.80H344.60V264.20H345.80V265.80H346.90V267.70H347.70V270.00H348.50V273.10H349.20V275.40H350.00V278.50H350.40V281.50H351.50V282.30H352.70V283.10H353.80V284.60H354.60V286.20H355.40V289.20H356.20V291.50H356.50V293.80H357.30V296.20H358.10V297.70H358.80V299.20H359.60V301.20H360.40V304.20H361.20V307.30H361.90V310.40H362.70V313.50H364.60V315.80H365.40V318.10H366.50V320.10H374.60V321.20H375.80V322.70H377.30V324.60H378.50V326.20H381.50V328.80H382.70V331.20H383.80V332.70H384.40V333.60H400.00V335.80H431.50V338.00H442.30V340.30H511.80V340.30" stroke="#74b854" stroke-width="1" fill="none"/>
<path d="M343.40,262.80H344.20V263.30H345.40V265.40H346.20V268.50H346.50V271.50H347.30V273.80H347.70V276.20H356.20V278.10H357.30V280.00H358.50V281.50H359.20V283.10H360.40V285.40H360.80V287.70H361.20V290.80H361.50V293.10H362.70V294.20H363.80V296.20H364.40V297.50H365.20V299.20H368.80V302.70H369.60V305.00H370.00V307.40H379.70V310.40H387.90V312.70H394.80V316.10H400.00V319.90H511.80V319.90" stroke="#5270aa" stroke-width="1" fill="none"/>
<path d="M343.40,262.80H343.80V266.90H346.50V271.50H347.30V274.20H348.50V276.50H349.20V278.50H349.60V283.10H350.40V285.40H350.80V289.20H351.50V293.10H352.30V296.20H352.70V298.50H353.10V301.20H353.80V305.00H354.20V308.80H355.00V312.70H355.80V314.20H357.70V318.10H358.50V320.40H358.80V324.20H359.20V327.30H359.60V334.40H364.20V339.80H376.30V346.10H376.90V352.50H382.70V358.20H511.80V358.20" stroke="#bb2347" stroke-width="1" fill="none"/>
<text x="334.70" y="410.00" font-size="6.45" text-anchor="start" fill="#111" stroke="#111" font-weight="normal" stroke-width="0.1" >Number at risk</text>
<line x1="334.70" y1="415.10" x2="334.70" y2="437.40" stroke="#000" stroke-width="1.2" />
<line x1="334.10" y1="436.80" x2="512.20" y2="436.80" stroke="#000" stroke-width="1.2" />
<line x1="342.60" y1="436.80" x2="342.60" y2="439.80" stroke="#000" stroke-width="1.0" />
<text x="342.60" y="448.40" font-size="6.6" text-anchor="middle" fill="#222" stroke="#222" font-weight="normal" stroke-width="0.1" >0</text>
<line x1="357.75" y1="436.80" x2="357.75" y2="439.80" stroke="#000" stroke-width="1.0" />
<text x="357.75" y="448.40" font-size="6.6" text-anchor="middle" fill="#222" stroke="#222" font-weight="normal" stroke-width="0.1" >6</text>
<line x1="372.90" y1="436.80" x2="372.90" y2="439.80" stroke="#000" stroke-width="1.0" />
<text x="372.90" y="448.40" font-size="6.6" text-anchor="middle" fill="#222" stroke="#222" font-weight="normal" stroke-width="0.1" >12</text>
<line x1="388.05" y1="436.80" x2="388.05" y2="439.80" stroke="#000" stroke-width="1.0" />
<text x="388.05" y="448.40" font-size="6.6" text-anchor="middle" fill="#222" stroke="#222" font-weight="normal" stroke-width="0.1" >18</text>
<line x1="403.20" y1="436.80" x2="403.20" y2="439.80" stroke="#000" stroke-width="1.0" />
<text x="403.20" y="448.40" font-size="6.6" text-anchor="middle" fill="#222" stroke="#222" font-weight="normal" stroke-width="0.1" >24</text>
<line x1="418.35" y1="436.80" x2="418.35" y2="439.80" stroke="#000" stroke-width="1.0" />
<text x="418.35" y="448.40" font-size="6.6" text-anchor="middle" fill="#222" stroke="#222" font-weight="normal" stroke-width="0.1" >30</text>
<line x1="433.50" y1="436.80" x2="433.50" y2="439.80" stroke="#000" stroke-width="1.0" />
<text x="433.50" y="448.40" font-size="6.6" text-anchor="middle" fill="#222" stroke="#222" font-weight="normal" stroke-width="0.1" >36</text>
<line x1="448.65" y1="436.80" x2="448.65" y2="439.80" stroke="#000" stroke-width="1.0" />
<text x="448.65" y="448.40" font-size="6.6" text-anchor="middle" fill="#222" stroke="#222" font-weight="normal" stroke-width="0.1" >42</text>
<line x1="463.80" y1="436.80" x2="463.80" y2="439.80" stroke="#000" stroke-width="1.0" />
<text x="463.80" y="448.40" font-size="6.6" text-anchor="middle" fill="#222" stroke="#222" font-weight="normal" stroke-width="0.1" >48</text>
<line x1="478.95" y1="436.80" x2="478.95" y2="439.80" stroke="#000" stroke-width="1.0" />
<text x="478.95" y="448.40" font-size="6.6" text-anchor="middle" fill="#222" stroke="#222" font-weight="normal" stroke-width="0.1" >54</text>
<line x1="494.10" y1="436.80" x2="494.10" y2="439.80" stroke="#000" stroke-width="1.0" />
<text x="494.10" y="448.40" font-size="6.6" text-anchor="middle" fill="#222" stroke="#222" font-weight="normal" stroke-width="0.1" >60</text>
<line x1="509.25" y1="436.80" x2="509.25" y2="439.80" stroke="#000" stroke-width="1.0" />
<text x="509.25" y="448.40" font-size="6.6" text-anchor="middle" fill="#222" stroke="#222" font-weight="normal" stroke-width="0.1" >66</text>
<line x1="331.70" y1="417.60" x2="334.70" y2="417.60" stroke="#000" stroke-width="1.0" />
<text x="328.00" y="420.35" font-size="6.55" text-anchor="end" fill="#bb2347" stroke="#bb2347" font-weight="normal" stroke-width="0.04" textLength="23.1" lengthAdjust="spacingAndGlyphs">Adverse</text>
<text x="342.60" y="420.30" font-size="6.8" text-anchor="middle" fill="#111" stroke="#111" font-weight="normal" stroke-width="0.1" >21</text>
<text x="357.75" y="420.30" font-size="6.8" text-anchor="middle" fill="#111" stroke="#111" font-weight="normal" stroke-width="0.1" >10</text>
<text x="372.90" y="420.30" font-size="6.8" text-anchor="middle" fill="#111" stroke="#111" font-weight="normal" stroke-width="0.1" >5</text>
<text x="388.05" y="420.30" font-size="6.8" text-anchor="middle" fill="#111" stroke="#111" font-weight="normal" stroke-width="0.1" >2</text>
<text x="403.20" y="420.30" font-size="6.8" text-anchor="middle" fill="#111" stroke="#111" font-weight="normal" stroke-width="0.1" >2</text>
<text x="418.35" y="420.30" font-size="6.8" text-anchor="middle" fill="#111" stroke="#111" font-weight="normal" stroke-width="0.1" >2</text>
<text x="433.50" y="420.30" font-size="6.8" text-anchor="middle" fill="#111" stroke="#111" font-weight="normal" stroke-width="0.1" >2</text>
<text x="448.65" y="420.30" font-size="6.8" text-anchor="middle" fill="#111" stroke="#111" font-weight="normal" stroke-width="0.1" >2</text>
<text x="463.80" y="420.30" font-size="6.8" text-anchor="middle" fill="#111" stroke="#111" font-weight="normal" stroke-width="0.1" >1</text>
<text x="478.95" y="420.30" font-size="6.8" text-anchor="middle" fill="#111" stroke="#111" font-weight="normal" stroke-width="0.1" >1</text>
<text x="494.10" y="420.30" font-size="6.8" text-anchor="middle" fill="#111" stroke="#111" font-weight="normal" stroke-width="0.1" >1</text>
<text x="509.25" y="420.30" font-size="6.8" text-anchor="middle" fill="#111" stroke="#111" font-weight="normal" stroke-width="0.1" >1</text>
<line x1="331.70" y1="425.10" x2="334.70" y2="425.10" stroke="#000" stroke-width="1.0" />
<text x="328.00" y="427.85" font-size="6.55" text-anchor="end" fill="#5270aa" stroke="#5270aa" font-weight="normal" stroke-width="0.04" textLength="27.9" lengthAdjust="spacingAndGlyphs">Favorable</text>
<text x="342.60" y="427.80" font-size="6.8" text-anchor="middle" fill="#111" stroke="#111" font-weight="normal" stroke-width="0.1" >41</text>
<text x="357.75" y="427.80" font-size="6.8" text-anchor="middle" fill="#111" stroke="#111" font-weight="normal" stroke-width="0.1" >35</text>
<text x="372.90" y="427.80" font-size="6.8" text-anchor="middle" fill="#111" stroke="#111" font-weight="normal" stroke-width="0.1" >23</text>
<text x="388.05" y="427.80" font-size="6.8" text-anchor="middle" fill="#111" stroke="#111" font-weight="normal" stroke-width="0.1" >20</text>
<text x="403.20" y="427.80" font-size="6.8" text-anchor="middle" fill="#111" stroke="#111" font-weight="normal" stroke-width="0.1" >15</text>
<text x="418.35" y="427.80" font-size="6.8" text-anchor="middle" fill="#111" stroke="#111" font-weight="normal" stroke-width="0.1" >14</text>
<text x="433.50" y="427.80" font-size="6.8" text-anchor="middle" fill="#111" stroke="#111" font-weight="normal" stroke-width="0.1" >12</text>
<text x="448.65" y="427.80" font-size="6.8" text-anchor="middle" fill="#111" stroke="#111" font-weight="normal" stroke-width="0.1" >11</text>
<text x="463.80" y="427.80" font-size="6.8" text-anchor="middle" fill="#111" stroke="#111" font-weight="normal" stroke-width="0.1" >11</text>
<text x="478.95" y="427.80" font-size="6.8" text-anchor="middle" fill="#111" stroke="#111" font-weight="normal" stroke-width="0.1" >10</text>
<text x="494.10" y="427.80" font-size="6.8" text-anchor="middle" fill="#111" stroke="#111" font-weight="normal" stroke-width="0.1" >10</text>
<text x="509.25" y="427.80" font-size="6.8" text-anchor="middle" fill="#111" stroke="#111" font-weight="normal" stroke-width="0.1" >10</text>
<line x1="331.70" y1="432.70" x2="334.70" y2="432.70" stroke="#000" stroke-width="1.0" />
<text x="328.00" y="435.45" font-size="6.55" text-anchor="end" fill="#74b854" stroke="#74b854" font-weight="normal" stroke-width="0.04" textLength="35.0" lengthAdjust="spacingAndGlyphs">Intermediate</text>
<text x="342.60" y="435.40" font-size="6.8" text-anchor="middle" fill="#111" stroke="#111" font-weight="normal" stroke-width="0.1" >63</text>
<text x="357.75" y="435.40" font-size="6.8" text-anchor="middle" fill="#111" stroke="#111" font-weight="normal" stroke-width="0.1" >40</text>
<text x="372.90" y="435.40" font-size="6.8" text-anchor="middle" fill="#111" stroke="#111" font-weight="normal" stroke-width="0.1" >27</text>
<text x="388.05" y="435.40" font-size="6.8" text-anchor="middle" fill="#111" stroke="#111" font-weight="normal" stroke-width="0.1" >19</text>
<text x="403.20" y="435.40" font-size="6.8" text-anchor="middle" fill="#111" stroke="#111" font-weight="normal" stroke-width="0.1" >17</text>
<text x="418.35" y="435.40" font-size="6.8" text-anchor="middle" fill="#111" stroke="#111" font-weight="normal" stroke-width="0.1" >16</text>
<text x="433.50" y="435.40" font-size="6.8" text-anchor="middle" fill="#111" stroke="#111" font-weight="normal" stroke-width="0.1" >14</text>
<text x="448.65" y="435.40" font-size="6.8" text-anchor="middle" fill="#111" stroke="#111" font-weight="normal" stroke-width="0.1" >13</text>
<text x="463.80" y="435.40" font-size="6.8" text-anchor="middle" fill="#111" stroke="#111" font-weight="normal" stroke-width="0.1" >12</text>
<text x="478.95" y="435.40" font-size="6.8" text-anchor="middle" fill="#111" stroke="#111" font-weight="normal" stroke-width="0.1" >11</text>
<text x="494.10" y="435.40" font-size="6.8" text-anchor="middle" fill="#111" stroke="#111" font-weight="normal" stroke-width="0.1" >10</text>
<text x="509.25" y="435.40" font-size="6.8" text-anchor="middle" fill="#111" stroke="#111" font-weight="normal" stroke-width="0.1" >10</text>
<text x="423.45" y="459.50" font-size="8.6" text-anchor="middle" fill="#000" stroke="#000" font-weight="normal" stroke-width="0.22" textLength="60.9" lengthAdjust="spacingAndGlyphs">Time from CR (months)</text>
<text transform="translate(288.70,425.50) rotate(-90)" x="0" y="0" font-size="9.6" font-weight="normal" stroke="#000" stroke-width="0.3" text-anchor="middle" textLength="11.2" lengthAdjust="spacingAndGlyphs">Risk</text>
<text x="6.90" y="487.40" font-size="12.4" text-anchor="start" fill="#000" stroke="#000" font-weight="bold" stroke-width="0.35" >E</text>
<line x1="71.70" y1="486.80" x2="71.70" y2="603.30" stroke="#000" stroke-width="1.2" />
<line x1="68.70" y1="597.20" x2="71.70" y2="597.20" stroke="#000" stroke-width="1.0" />
<text x="65.75" y="599.40" font-size="6.45" text-anchor="end" fill="#000" stroke="#000" font-weight="normal" stroke-width="0.1" >0.00</text>
<line x1="68.70" y1="570.88" x2="71.70" y2="570.88" stroke="#000" stroke-width="1.0" />
<text x="65.75" y="573.08" font-size="6.45" text-anchor="end" fill="#000" stroke="#000" font-weight="normal" stroke-width="0.1" >0.25</text>
<line x1="68.70" y1="544.55" x2="71.70" y2="544.55" stroke="#000" stroke-width="1.0" />
<text x="65.75" y="546.75" font-size="6.45" text-anchor="end" fill="#000" stroke="#000" font-weight="normal" stroke-width="0.1" >0.50</text>
<line x1="68.70" y1="518.23" x2="71.70" y2="518.23" stroke="#000" stroke-width="1.0" />
<text x="65.75" y="520.43" font-size="6.45" text-anchor="end" fill="#000" stroke="#000" font-weight="normal" stroke-width="0.1" >0.75</text>
<line x1="68.70" y1="491.90" x2="71.70" y2="491.90" stroke="#000" stroke-width="1.0" />
<text x="65.75" y="494.10" font-size="6.45" text-anchor="end" fill="#000" stroke="#000" font-weight="normal" stroke-width="0.1" >1.00</text>
<line x1="71.10" y1="602.70" x2="258.60" y2="602.70" stroke="#000" stroke-width="1.2" />
<line x1="80.00" y1="602.70" x2="80.00" y2="605.70" stroke="#000" stroke-width="1.0" />
<text x="80.00" y="614.80" font-size="6.6" text-anchor="middle" fill="#222" stroke="#222" font-weight="normal" stroke-width="0.1" >0</text>
<line x1="96.00" y1="602.70" x2="96.00" y2="605.70" stroke="#000" stroke-width="1.0" />
<text x="96.00" y="614.80" font-size="6.6" text-anchor="middle" fill="#222" stroke="#222" font-weight="normal" stroke-width="0.1" >6</text>
<line x1="112.00" y1="602.70" x2="112.00" y2="605.70" stroke="#000" stroke-width="1.0" />
<text x="112.00" y="614.80" font-size="6.6" text-anchor="middle" fill="#222" stroke="#222" font-weight="normal" stroke-width="0.1" >12</text>
<line x1="128.01" y1="602.70" x2="128.01" y2="605.70" stroke="#000" stroke-width="1.0" />
<text x="128.01" y="614.80" font-size="6.6" text-anchor="middle" fill="#222" stroke="#222" font-weight="normal" stroke-width="0.1" >18</text>
<line x1="144.01" y1="602.70" x2="144.01" y2="605.70" stroke="#000" stroke-width="1.0" />
<text x="144.01" y="614.80" font-size="6.6" text-anchor="middle" fill="#222" stroke="#222" font-weight="normal" stroke-width="0.1" >24</text>
<line x1="160.01" y1="602.70" x2="160.01" y2="605.70" stroke="#000" stroke-width="1.0" />
<text x="160.01" y="614.80" font-size="6.6" text-anchor="middle" fill="#222" stroke="#222" font-weight="normal" stroke-width="0.1" >30</text>
<line x1="176.01" y1="602.70" x2="176.01" y2="605.70" stroke="#000" stroke-width="1.0" />
<text x="176.01" y="614.80" font-size="6.6" text-anchor="middle" fill="#222" stroke="#222" font-weight="normal" stroke-width="0.1" >36</text>
<line x1="192.01" y1="602.70" x2="192.01" y2="605.70" stroke="#000" stroke-width="1.0" />
<text x="192.01" y="614.80" font-size="6.6" text-anchor="middle" fill="#222" stroke="#222" font-weight="normal" stroke-width="0.1" >42</text>
<line x1="208.02" y1="602.70" x2="208.02" y2="605.70" stroke="#000" stroke-width="1.0" />
<text x="208.02" y="614.80" font-size="6.6" text-anchor="middle" fill="#222" stroke="#222" font-weight="normal" stroke-width="0.1" >48</text>
<line x1="224.02" y1="602.70" x2="224.02" y2="605.70" stroke="#000" stroke-width="1.0" />
<text x="224.02" y="614.80" font-size="6.6" text-anchor="middle" fill="#222" stroke="#222" font-weight="normal" stroke-width="0.1" >54</text>
<line x1="240.02" y1="602.70" x2="240.02" y2="605.70" stroke="#000" stroke-width="1.0" />
<text x="240.02" y="614.80" font-size="6.6" text-anchor="middle" fill="#222" stroke="#222" font-weight="normal" stroke-width="0.1" >60</text>
<line x1="256.02" y1="602.70" x2="256.02" y2="605.70" stroke="#000" stroke-width="1.0" />
<text x="256.02" y="614.80" font-size="6.6" text-anchor="middle" fill="#222" stroke="#222" font-weight="normal" stroke-width="0.1" >66</text>
<text x="165.15" y="626.50" font-size="8.6" text-anchor="middle" fill="#000" stroke="#000" font-weight="normal" stroke-width="0.22" textLength="77.5" lengthAdjust="spacingAndGlyphs">Time from diagnosis (months)</text>
<text transform="translate(47.90,544.50) rotate(-90)" x="0" y="0" font-size="8.6" stroke="#000" stroke-width="0.22" text-anchor="middle" textLength="51.7" lengthAdjust="spacingAndGlyphs">Overall survival (%)</text>
<text x="193.00" y="520.60" font-size="6.3" text-anchor="start" fill="#111" stroke="#111" font-weight="normal" stroke-width="0.1" >p = 0.037</text>
<path d="M80,544.7H145.8" stroke="#111" stroke-width="0.9" stroke-dasharray="1,1.1" fill="none"/>
<path d="M105.4,544.7V597.2" stroke="#111" stroke-width="0.9" stroke-dasharray="1,1.1" fill="none"/>
<path d="M113.5,544.7V597.2" stroke="#111" stroke-width="0.9" stroke-dasharray="1,1.1" fill="none"/>
<path d="M145.8,544.7V597.2" stroke="#111" stroke-width="0.9" stroke-dasharray="1,1.1" fill="none"/>
<path d="M80.80,491.90H80.80V497.20H81.10V501.10H81.80V505.70H82.60V511.10H83.40V514.90H84.20V518.80H84.90V521.10H86.10V522.20H88.20V523.10H89.40V525.40H90.20V527.80H95.20V530.00H95.90V534.20H100.60V536.10H105.50V538.40H111.80V542.10H113.30V543.00H113.90V546.40H117.90V548.50H119.30V549.60H119.90V551.60H130.00V554.00H131.70V556.30H152.40V559.20H154.70V562.10H160.70V565.30H202.10V569.70H207.10V574.40H258.60V574.40" stroke="#74b854" stroke-width="1" fill="none"/>
<path d="M80.80,491.90H80.80V498.00H81.50V499.50H82.20V501.10H83.00V502.50H85.10V508.80H86.50V510.30H88.00V511.50H88.80V513.40H89.50V514.90H89.90V518.80H90.70V521.50H91.50V522.60H92.50V524.40H93.60V526.90H94.40V528.50H96.70V529.20H97.50V531.40H112.70V534.60H113.30V536.10H119.60V538.70H120.50V540.40H122.20V541.50H122.80V543.60H146.10V546.20H156.30V548.70H163.10V551.80H258.60V551.80" stroke="#5270aa" stroke-width="1" fill="none"/>
<path d="M80.80,491.90H80.80V498.00H80.80V503.40H81.10V504.90H81.50V511.10H82.20V512.60H83.00V514.90H83.40V518.80H83.80V520.30H84.90V521.80H85.50V524.60H86.30V527.70H87.50V531.50H88.60V535.40H89.40V539.20H90.90V540.40H91.70V541.50H92.50V542.90H105.50V546.40H106.90V547.30H107.20V553.70H111.80V558.30H113.30V559.30H114.40V563.30H125.90V567.30H144.40V570.80H145.50V576.00H182.30V581.50H258.60V581.50" stroke="#bb2347" stroke-width="1" fill="none"/>
<text x="71.70" y="636.80" font-size="6.45" text-anchor="start" fill="#111" stroke="#111" font-weight="normal" stroke-width="0.1" >Number at risk</text>
<line x1="71.70" y1="642.10" x2="71.70" y2="664.30" stroke="#000" stroke-width="1.2" />
<line x1="71.10" y1="663.70" x2="258.60" y2="663.70" stroke="#000" stroke-width="1.2" />
<line x1="80.00" y1="663.70" x2="80.00" y2="666.70" stroke="#000" stroke-width="1.0" />
<text x="80.00" y="675.10" font-size="6.6" text-anchor="middle" fill="#222" stroke="#222" font-weight="normal" stroke-width="0.1" >0</text>
<line x1="96.00" y1="663.70" x2="96.00" y2="666.70" stroke="#000" stroke-width="1.0" />
<text x="96.00" y="675.10" font-size="6.6" text-anchor="middle" fill="#222" stroke="#222" font-weight="normal" stroke-width="0.1" >6</text>
<line x1="112.00" y1="663.70" x2="112.00" y2="666.70" stroke="#000" stroke-width="1.0" />
<text x="112.00" y="675.10" font-size="6.6" text-anchor="middle" fill="#222" stroke="#222" font-weight="normal" stroke-width="0.1" >12</text>
<line x1="128.01" y1="663.70" x2="128.01" y2="666.70" stroke="#000" stroke-width="1.0" />
<text x="128.01" y="675.10" font-size="6.6" text-anchor="middle" fill="#222" stroke="#222" font-weight="normal" stroke-width="0.1" >18</text>
<line x1="144.01" y1="663.70" x2="144.01" y2="666.70" stroke="#000" stroke-width="1.0" />
<text x="144.01" y="675.10" font-size="6.6" text-anchor="middle" fill="#222" stroke="#222" font-weight="normal" stroke-width="0.1" >24</text>
<line x1="160.01" y1="663.70" x2="160.01" y2="666.70" stroke="#000" stroke-width="1.0" />
<text x="160.01" y="675.10" font-size="6.6" text-anchor="middle" fill="#222" stroke="#222" font-weight="normal" stroke-width="0.1" >30</text>
<line x1="176.01" y1="663.70" x2="176.01" y2="666.70" stroke="#000" stroke-width="1.0" />
<text x="176.01" y="675.10" font-size="6.6" text-anchor="middle" fill="#222" stroke="#222" font-weight="normal" stroke-width="0.1" >36</text>
<line x1="192.01" y1="663.70" x2="192.01" y2="666.70" stroke="#000" stroke-width="1.0" />
<text x="192.01" y="675.10" font-size="6.6" text-anchor="middle" fill="#222" stroke="#222" font-weight="normal" stroke-width="0.1" >42</text>
<line x1="208.02" y1="663.70" x2="208.02" y2="666.70" stroke="#000" stroke-width="1.0" />
<text x="208.02" y="675.10" font-size="6.6" text-anchor="middle" fill="#222" stroke="#222" font-weight="normal" stroke-width="0.1" >48</text>
<line x1="224.02" y1="663.70" x2="224.02" y2="666.70" stroke="#000" stroke-width="1.0" />
<text x="224.02" y="675.10" font-size="6.6" text-anchor="middle" fill="#222" stroke="#222" font-weight="normal" stroke-width="0.1" >54</text>
<line x1="240.02" y1="663.70" x2="240.02" y2="666.70" stroke="#000" stroke-width="1.0" />
<text x="240.02" y="675.10" font-size="6.6" text-anchor="middle" fill="#222" stroke="#222" font-weight="normal" stroke-width="0.1" >60</text>
<line x1="256.02" y1="663.70" x2="256.02" y2="666.70" stroke="#000" stroke-width="1.0" />
<text x="256.02" y="675.10" font-size="6.6" text-anchor="middle" fill="#222" stroke="#222" font-weight="normal" stroke-width="0.1" >66</text>
<line x1="68.70" y1="644.60" x2="71.70" y2="644.60" stroke="#000" stroke-width="1.0" />
<text x="65.80" y="647.35" font-size="6.55" text-anchor="end" fill="#bb2347" stroke="#bb2347" font-weight="normal" stroke-width="0.04" textLength="23.1" lengthAdjust="spacingAndGlyphs">Adverse</text>
<text x="80.00" y="647.30" font-size="6.8" text-anchor="middle" fill="#111" stroke="#111" font-weight="normal" stroke-width="0.1" >33</text>
<text x="96.00" y="647.30" font-size="6.8" text-anchor="middle" fill="#111" stroke="#111" font-weight="normal" stroke-width="0.1" >17</text>
<text x="112.00" y="647.30" font-size="6.8" text-anchor="middle" fill="#111" stroke="#111" font-weight="normal" stroke-width="0.1" >9</text>
<text x="128.01" y="647.30" font-size="6.8" text-anchor="middle" fill="#111" stroke="#111" font-weight="normal" stroke-width="0.1" >7</text>
<text x="144.01" y="647.30" font-size="6.8" text-anchor="middle" fill="#111" stroke="#111" font-weight="normal" stroke-width="0.1" >7</text>
<text x="160.01" y="647.30" font-size="6.8" text-anchor="middle" fill="#111" stroke="#111" font-weight="normal" stroke-width="0.1" >5</text>
<text x="176.01" y="647.30" font-size="6.8" text-anchor="middle" fill="#111" stroke="#111" font-weight="normal" stroke-width="0.1" >4</text>
<text x="192.01" y="647.30" font-size="6.8" text-anchor="middle" fill="#111" stroke="#111" font-weight="normal" stroke-width="0.1" >3</text>
<text x="208.02" y="647.30" font-size="6.8" text-anchor="middle" fill="#111" stroke="#111" font-weight="normal" stroke-width="0.1" >3</text>
<text x="224.02" y="647.30" font-size="6.8" text-anchor="middle" fill="#111" stroke="#111" font-weight="normal" stroke-width="0.1" >2</text>
<text x="240.02" y="647.30" font-size="6.8" text-anchor="middle" fill="#111" stroke="#111" font-weight="normal" stroke-width="0.1" >2</text>
<text x="256.02" y="647.30" font-size="6.8" text-anchor="middle" fill="#111" stroke="#111" font-weight="normal" stroke-width="0.1" >2</text>
<line x1="68.70" y1="652.30" x2="71.70" y2="652.30" stroke="#000" stroke-width="1.0" />
<text x="65.80" y="655.05" font-size="6.55" text-anchor="end" fill="#5270aa" stroke="#5270aa" font-weight="normal" stroke-width="0.04" textLength="27.9" lengthAdjust="spacingAndGlyphs">Favorable</text>
<text x="80.00" y="655.00" font-size="6.8" text-anchor="middle" fill="#111" stroke="#111" font-weight="normal" stroke-width="0.1" >48</text>
<text x="96.00" y="655.00" font-size="6.8" text-anchor="middle" fill="#111" stroke="#111" font-weight="normal" stroke-width="0.1" >31</text>
<text x="112.00" y="655.00" font-size="6.8" text-anchor="middle" fill="#111" stroke="#111" font-weight="normal" stroke-width="0.1" >27</text>
<text x="128.01" y="655.00" font-size="6.8" text-anchor="middle" fill="#111" stroke="#111" font-weight="normal" stroke-width="0.1" >22</text>
<text x="144.01" y="655.00" font-size="6.8" text-anchor="middle" fill="#111" stroke="#111" font-weight="normal" stroke-width="0.1" >19</text>
<text x="160.01" y="655.00" font-size="6.8" text-anchor="middle" fill="#111" stroke="#111" font-weight="normal" stroke-width="0.1" >17</text>
<text x="176.01" y="655.00" font-size="6.8" text-anchor="middle" fill="#111" stroke="#111" font-weight="normal" stroke-width="0.1" >15</text>
<text x="192.01" y="655.00" font-size="6.8" text-anchor="middle" fill="#111" stroke="#111" font-weight="normal" stroke-width="0.1" >13</text>
<text x="208.02" y="655.00" font-size="6.8" text-anchor="middle" fill="#111" stroke="#111" font-weight="normal" stroke-width="0.1" >12</text>
<text x="224.02" y="655.00" font-size="6.8" text-anchor="middle" fill="#111" stroke="#111" font-weight="normal" stroke-width="0.1" >12</text>
<text x="240.02" y="655.00" font-size="6.8" text-anchor="middle" fill="#111" stroke="#111" font-weight="normal" stroke-width="0.1" >9</text>
<text x="256.02" y="655.00" font-size="6.8" text-anchor="middle" fill="#111" stroke="#111" font-weight="normal" stroke-width="0.1" >7</text>
<line x1="68.70" y1="660.00" x2="71.70" y2="660.00" stroke="#000" stroke-width="1.0" />
<text x="65.80" y="662.75" font-size="6.55" text-anchor="end" fill="#74b854" stroke="#74b854" font-weight="normal" stroke-width="0.04" textLength="35.0" lengthAdjust="spacingAndGlyphs">Intermediate</text>
<text x="80.00" y="662.70" font-size="6.8" text-anchor="middle" fill="#111" stroke="#111" font-weight="normal" stroke-width="0.1" >58</text>
<text x="96.00" y="662.70" font-size="6.8" text-anchor="middle" fill="#111" stroke="#111" font-weight="normal" stroke-width="0.1" >32</text>
<text x="112.00" y="662.70" font-size="6.8" text-anchor="middle" fill="#111" stroke="#111" font-weight="normal" stroke-width="0.1" >26</text>
<text x="128.01" y="662.70" font-size="6.8" text-anchor="middle" fill="#111" stroke="#111" font-weight="normal" stroke-width="0.1" >19</text>
<text x="144.01" y="662.70" font-size="6.8" text-anchor="middle" fill="#111" stroke="#111" font-weight="normal" stroke-width="0.1" >14</text>
<text x="160.01" y="662.70" font-size="6.8" text-anchor="middle" fill="#111" stroke="#111" font-weight="normal" stroke-width="0.1" >11</text>
<text x="176.01" y="662.70" font-size="6.8" text-anchor="middle" fill="#111" stroke="#111" font-weight="normal" stroke-width="0.1" >10</text>
<text x="192.01" y="662.70" font-size="6.8" text-anchor="middle" fill="#111" stroke="#111" font-weight="normal" stroke-width="0.1" >9</text>
<text x="208.02" y="662.70" font-size="6.8" text-anchor="middle" fill="#111" stroke="#111" font-weight="normal" stroke-width="0.1" >5</text>
<text x="224.02" y="662.70" font-size="6.8" text-anchor="middle" fill="#111" stroke="#111" font-weight="normal" stroke-width="0.1" >4</text>
<text x="240.02" y="662.70" font-size="6.8" text-anchor="middle" fill="#111" stroke="#111" font-weight="normal" stroke-width="0.1" >2</text>
<text x="256.02" y="662.70" font-size="6.8" text-anchor="middle" fill="#111" stroke="#111" font-weight="normal" stroke-width="0.1" >1</text>
<text x="165.15" y="687.00" font-size="8.6" text-anchor="middle" fill="#000" stroke="#000" font-weight="normal" stroke-width="0.22" textLength="77.5" lengthAdjust="spacingAndGlyphs">Time from diagnosis (months)</text>
<text transform="translate(25.70,652.30) rotate(-90)" x="0" y="0" font-size="9.6" font-weight="normal" stroke="#000" stroke-width="0.3" text-anchor="middle" textLength="11.7" lengthAdjust="spacingAndGlyphs">AGR</text>
<text x="270.80" y="487.40" font-size="12.4" text-anchor="start" fill="#000" stroke="#000" font-weight="bold" stroke-width="0.35" >F</text>
<line x1="334.70" y1="484.40" x2="334.70" y2="603.30" stroke="#000" stroke-width="1.2" />
<line x1="331.70" y1="597.20" x2="334.70" y2="597.20" stroke="#000" stroke-width="1.0" />
<text x="328.75" y="599.40" font-size="6.45" text-anchor="end" fill="#000" stroke="#000" font-weight="normal" stroke-width="0.1" >0.00</text>
<line x1="331.70" y1="570.30" x2="334.70" y2="570.30" stroke="#000" stroke-width="1.0" />
<text x="328.75" y="572.50" font-size="6.45" text-anchor="end" fill="#000" stroke="#000" font-weight="normal" stroke-width="0.1" >0.25</text>
<line x1="331.70" y1="543.40" x2="334.70" y2="543.40" stroke="#000" stroke-width="1.0" />
<text x="328.75" y="545.60" font-size="6.45" text-anchor="end" fill="#000" stroke="#000" font-weight="normal" stroke-width="0.1" >0.50</text>
<line x1="331.70" y1="516.50" x2="334.70" y2="516.50" stroke="#000" stroke-width="1.0" />
<text x="328.75" y="518.70" font-size="6.45" text-anchor="end" fill="#000" stroke="#000" font-weight="normal" stroke-width="0.1" >0.75</text>
<line x1="331.70" y1="489.60" x2="334.70" y2="489.60" stroke="#000" stroke-width="1.0" />
<text x="328.75" y="491.80" font-size="6.45" text-anchor="end" fill="#000" stroke="#000" font-weight="normal" stroke-width="0.1" >1.00</text>
<line x1="334.10" y1="602.70" x2="512.20" y2="602.70" stroke="#000" stroke-width="1.2" />
<line x1="342.60" y1="602.70" x2="342.60" y2="605.70" stroke="#000" stroke-width="1.0" />
<text x="342.60" y="614.80" font-size="6.6" text-anchor="middle" fill="#222" stroke="#222" font-weight="normal" stroke-width="0.1" >0</text>
<line x1="357.75" y1="602.70" x2="357.75" y2="605.70" stroke="#000" stroke-width="1.0" />
<text x="357.75" y="614.80" font-size="6.6" text-anchor="middle" fill="#222" stroke="#222" font-weight="normal" stroke-width="0.1" >6</text>
<line x1="372.90" y1="602.70" x2="372.90" y2="605.70" stroke="#000" stroke-width="1.0" />
<text x="372.90" y="614.80" font-size="6.6" text-anchor="middle" fill="#222" stroke="#222" font-weight="normal" stroke-width="0.1" >12</text>
<line x1="388.05" y1="602.70" x2="388.05" y2="605.70" stroke="#000" stroke-width="1.0" />
<text x="388.05" y="614.80" font-size="6.6" text-anchor="middle" fill="#222" stroke="#222" font-weight="normal" stroke-width="0.1" >18</text>
<line x1="403.20" y1="602.70" x2="403.20" y2="605.70" stroke="#000" stroke-width="1.0" />
<text x="403.20" y="614.80" font-size="6.6" text-anchor="middle" fill="#222" stroke="#222" font-weight="normal" stroke-width="0.1" >24</text>
<line x1="418.35" y1="602.70" x2="418.35" y2="605.70" stroke="#000" stroke-width="1.0" />
<text x="418.35" y="614.80" font-size="6.6" text-anchor="middle" fill="#222" stroke="#222" font-weight="normal" stroke-width="0.1" >30</text>
<line x1="433.50" y1="602.70" x2="433.50" y2="605.70" stroke="#000" stroke-width="1.0" />
<text x="433.50" y="614.80" font-size="6.6" text-anchor="middle" fill="#222" stroke="#222" font-weight="normal" stroke-width="0.1" >36</text>
<line x1="448.65" y1="602.70" x2="448.65" y2="605.70" stroke="#000" stroke-width="1.0" />
<text x="448.65" y="614.80" font-size="6.6" text-anchor="middle" fill="#222" stroke="#222" font-weight="normal" stroke-width="0.1" >42</text>
<line x1="463.80" y1="602.70" x2="463.80" y2="605.70" stroke="#000" stroke-width="1.0" />
<text x="463.80" y="614.80" font-size="6.6" text-anchor="middle" fill="#222" stroke="#222" font-weight="normal" stroke-width="0.1" >48</text>
<line x1="478.95" y1="602.70" x2="478.95" y2="605.70" stroke="#000" stroke-width="1.0" />
<text x="478.95" y="614.80" font-size="6.6" text-anchor="middle" fill="#222" stroke="#222" font-weight="normal" stroke-width="0.1" >54</text>
<line x1="494.10" y1="602.70" x2="494.10" y2="605.70" stroke="#000" stroke-width="1.0" />
<text x="494.10" y="614.80" font-size="6.6" text-anchor="middle" fill="#222" stroke="#222" font-weight="normal" stroke-width="0.1" >60</text>
<line x1="509.25" y1="602.70" x2="509.25" y2="605.70" stroke="#000" stroke-width="1.0" />
<text x="509.25" y="614.80" font-size="6.6" text-anchor="middle" fill="#222" stroke="#222" font-weight="normal" stroke-width="0.1" >66</text>
<text x="423.45" y="626.50" font-size="8.6" text-anchor="middle" fill="#000" stroke="#000" font-weight="normal" stroke-width="0.22" textLength="77.5" lengthAdjust="spacingAndGlyphs">Time from diagnosis (months)</text>
<text transform="translate(310.60,543.40) rotate(-90)" x="0" y="0" font-size="8.6" stroke="#000" stroke-width="0.22" text-anchor="middle" textLength="51.7" lengthAdjust="spacingAndGlyphs">Overall survival (%)</text>
<text x="448.80" y="508.40" font-size="6.3" text-anchor="start" fill="#111" stroke="#111" font-weight="normal" stroke-width="0.1" >p = 0.012</text>
<path d="M342.6,543.5H511.8" stroke="#111" stroke-width="0.9" stroke-dasharray="1,1.1" fill="none"/>
<path d="M379.9,543.5V597.2" stroke="#111" stroke-width="0.9" stroke-dasharray="1,1.1" fill="none"/>
<path d="M343.40,489.60H343.80V491.90H350.60V494.60H352.50V496.50H354.40V498.50H356.30V499.40H358.30V501.30H360.70V503.80H362.10V504.70H367.90V507.10H368.80V510.00H370.80V511.00H375.10V512.40H377.00V513.80H377.80V515.50H378.50V516.70H379.40V519.60H380.20V522.60H389.80V525.60H393.20V526.50H394.60V528.50H396.50V530.40H404.20V532.30H405.50V533.70H416.60V535.80H420.00V536.40H421.10V538.40H464.80V540.50H511.80V540.50" stroke="#74b854" stroke-width="1" fill="none"/>
<path d="M343.40,489.60H354.90V493.30H359.20V497.30H389.00V501.40H395.80V505.50H397.80V508.80H399.10V513.60H401.20V517.50H413.00V521.60H417.30V525.70H420.00V529.60H460.60V535.50H511.80V535.50" stroke="#5270aa" stroke-width="1" fill="none"/>
<path d="M343.40,489.60H343.40V490.80H344.30V493.20H345.30V495.60H346.30V498.00H347.70V500.40H349.10V502.80H355.40V506.20H356.30V508.60H357.30V511.00H358.30V513.40H359.20V515.80H360.20V518.20H361.10V520.60H367.20V524.10H367.70V526.30H373.50V532.30H374.90V535.20H375.90V541.10H380.20V547.20H393.70V550.20H401.80V553.00H406.50V556.10H430.60V558.80H436.10V562.40H485.40V566.60H511.80V566.60" stroke="#bb2347" stroke-width="1" fill="none"/>
<text x="334.70" y="636.80" font-size="6.45" text-anchor="start" fill="#111" stroke="#111" font-weight="normal" stroke-width="0.1" >Number at risk</text>
<line x1="334.70" y1="642.10" x2="334.70" y2="664.30" stroke="#000" stroke-width="1.2" />
<line x1="334.10" y1="663.70" x2="512.20" y2="663.70" stroke="#000" stroke-width="1.2" />
<line x1="342.60" y1="663.70" x2="342.60" y2="666.70" stroke="#000" stroke-width="1.0" />
<text x="342.60" y="675.10" font-size="6.6" text-anchor="middle" fill="#222" stroke="#222" font-weight="normal" stroke-width="0.1" >0</text>
<line x1="357.75" y1="663.70" x2="357.75" y2="666.70" stroke="#000" stroke-width="1.0" />
<text x="357.75" y="675.10" font-size="6.6" text-anchor="middle" fill="#222" stroke="#222" font-weight="normal" stroke-width="0.1" >6</text>
<line x1="372.90" y1="663.70" x2="372.90" y2="666.70" stroke="#000" stroke-width="1.0" />
<text x="372.90" y="675.10" font-size="6.6" text-anchor="middle" fill="#222" stroke="#222" font-weight="normal" stroke-width="0.1" >12</text>
<line x1="388.05" y1="663.70" x2="388.05" y2="666.70" stroke="#000" stroke-width="1.0" />
<text x="388.05" y="675.10" font-size="6.6" text-anchor="middle" fill="#222" stroke="#222" font-weight="normal" stroke-width="0.1" >18</text>
<line x1="403.20" y1="663.70" x2="403.20" y2="666.70" stroke="#000" stroke-width="1.0" />
<text x="403.20" y="675.10" font-size="6.6" text-anchor="middle" fill="#222" stroke="#222" font-weight="normal" stroke-width="0.1" >24</text>
<line x1="418.35" y1="663.70" x2="418.35" y2="666.70" stroke="#000" stroke-width="1.0" />
<text x="418.35" y="675.10" font-size="6.6" text-anchor="middle" fill="#222" stroke="#222" font-weight="normal" stroke-width="0.1" >30</text>
<line x1="433.50" y1="663.70" x2="433.50" y2="666.70" stroke="#000" stroke-width="1.0" />
<text x="433.50" y="675.10" font-size="6.6" text-anchor="middle" fill="#222" stroke="#222" font-weight="normal" stroke-width="0.1" >36</text>
<line x1="448.65" y1="663.70" x2="448.65" y2="666.70" stroke="#000" stroke-width="1.0" />
<text x="448.65" y="675.10" font-size="6.6" text-anchor="middle" fill="#222" stroke="#222" font-weight="normal" stroke-width="0.1" >42</text>
<line x1="463.80" y1="663.70" x2="463.80" y2="666.70" stroke="#000" stroke-width="1.0" />
<text x="463.80" y="675.10" font-size="6.6" text-anchor="middle" fill="#222" stroke="#222" font-weight="normal" stroke-width="0.1" >48</text>
<line x1="478.95" y1="663.70" x2="478.95" y2="666.70" stroke="#000" stroke-width="1.0" />
<text x="478.95" y="675.10" font-size="6.6" text-anchor="middle" fill="#222" stroke="#222" font-weight="normal" stroke-width="0.1" >54</text>
<line x1="494.10" y1="663.70" x2="494.10" y2="666.70" stroke="#000" stroke-width="1.0" />
<text x="494.10" y="675.10" font-size="6.6" text-anchor="middle" fill="#222" stroke="#222" font-weight="normal" stroke-width="0.1" >60</text>
<line x1="509.25" y1="663.70" x2="509.25" y2="666.70" stroke="#000" stroke-width="1.0" />
<text x="509.25" y="675.10" font-size="6.6" text-anchor="middle" fill="#222" stroke="#222" font-weight="normal" stroke-width="0.1" >66</text>
<line x1="331.70" y1="644.60" x2="334.70" y2="644.60" stroke="#000" stroke-width="1.0" />
<text x="328.00" y="647.35" font-size="6.55" text-anchor="end" fill="#bb2347" stroke="#bb2347" font-weight="normal" stroke-width="0.04" textLength="23.1" lengthAdjust="spacingAndGlyphs">Adverse</text>
<text x="342.60" y="647.30" font-size="6.8" text-anchor="middle" fill="#111" stroke="#111" font-weight="normal" stroke-width="0.1" >38</text>
<text x="357.75" y="647.30" font-size="6.8" text-anchor="middle" fill="#111" stroke="#111" font-weight="normal" stroke-width="0.1" >30</text>
<text x="372.90" y="647.30" font-size="6.8" text-anchor="middle" fill="#111" stroke="#111" font-weight="normal" stroke-width="0.1" >23</text>
<text x="388.05" y="647.30" font-size="6.8" text-anchor="middle" fill="#111" stroke="#111" font-weight="normal" stroke-width="0.1" >17</text>
<text x="403.20" y="647.30" font-size="6.8" text-anchor="middle" fill="#111" stroke="#111" font-weight="normal" stroke-width="0.1" >15</text>
<text x="418.35" y="647.30" font-size="6.8" text-anchor="middle" fill="#111" stroke="#111" font-weight="normal" stroke-width="0.1" >13</text>
<text x="433.50" y="647.30" font-size="6.8" text-anchor="middle" fill="#111" stroke="#111" font-weight="normal" stroke-width="0.1" >12</text>
<text x="448.65" y="647.30" font-size="6.8" text-anchor="middle" fill="#111" stroke="#111" font-weight="normal" stroke-width="0.1" >10</text>
<text x="463.80" y="647.30" font-size="6.8" text-anchor="middle" fill="#111" stroke="#111" font-weight="normal" stroke-width="0.1" >10</text>
<text x="478.95" y="647.30" font-size="6.8" text-anchor="middle" fill="#111" stroke="#111" font-weight="normal" stroke-width="0.1" >8</text>
<text x="494.10" y="647.30" font-size="6.8" text-anchor="middle" fill="#111" stroke="#111" font-weight="normal" stroke-width="0.1" >7</text>
<text x="509.25" y="647.30" font-size="6.8" text-anchor="middle" fill="#111" stroke="#111" font-weight="normal" stroke-width="0.1" >7</text>
<line x1="331.70" y1="652.30" x2="334.70" y2="652.30" stroke="#000" stroke-width="1.0" />
<text x="328.00" y="655.05" font-size="6.55" text-anchor="end" fill="#5270aa" stroke="#5270aa" font-weight="normal" stroke-width="0.04" textLength="27.9" lengthAdjust="spacingAndGlyphs">Favorable</text>
<text x="342.60" y="655.00" font-size="6.8" text-anchor="middle" fill="#111" stroke="#111" font-weight="normal" stroke-width="0.1" >28</text>
<text x="357.75" y="655.00" font-size="6.8" text-anchor="middle" fill="#111" stroke="#111" font-weight="normal" stroke-width="0.1" >26</text>
<text x="372.90" y="655.00" font-size="6.8" text-anchor="middle" fill="#111" stroke="#111" font-weight="normal" stroke-width="0.1" >25</text>
<text x="388.05" y="655.00" font-size="6.8" text-anchor="middle" fill="#111" stroke="#111" font-weight="normal" stroke-width="0.1" >25</text>
<text x="403.20" y="655.00" font-size="6.8" text-anchor="middle" fill="#111" stroke="#111" font-weight="normal" stroke-width="0.1" >20</text>
<text x="418.35" y="655.00" font-size="6.8" text-anchor="middle" fill="#111" stroke="#111" font-weight="normal" stroke-width="0.1" >17</text>
<text x="433.50" y="655.00" font-size="6.8" text-anchor="middle" fill="#111" stroke="#111" font-weight="normal" stroke-width="0.1" >14</text>
<text x="448.65" y="655.00" font-size="6.8" text-anchor="middle" fill="#111" stroke="#111" font-weight="normal" stroke-width="0.1" >12</text>
<text x="463.80" y="655.00" font-size="6.8" text-anchor="middle" fill="#111" stroke="#111" font-weight="normal" stroke-width="0.1" >11</text>
<text x="478.95" y="655.00" font-size="6.8" text-anchor="middle" fill="#111" stroke="#111" font-weight="normal" stroke-width="0.1" >9</text>
<text x="494.10" y="655.00" font-size="6.8" text-anchor="middle" fill="#111" stroke="#111" font-weight="normal" stroke-width="0.1" >8</text>
<text x="509.25" y="655.00" font-size="6.8" text-anchor="middle" fill="#111" stroke="#111" font-weight="normal" stroke-width="0.1" >8</text>
<line x1="331.70" y1="660.00" x2="334.70" y2="660.00" stroke="#000" stroke-width="1.0" />
<text x="328.00" y="662.75" font-size="6.55" text-anchor="end" fill="#74b854" stroke="#74b854" font-weight="normal" stroke-width="0.04" textLength="35.0" lengthAdjust="spacingAndGlyphs">Intermediate</text>
<text x="342.60" y="662.70" font-size="6.8" text-anchor="middle" fill="#111" stroke="#111" font-weight="normal" stroke-width="0.1" >72</text>
<text x="357.75" y="662.70" font-size="6.8" text-anchor="middle" fill="#111" stroke="#111" font-weight="normal" stroke-width="0.1" >64</text>
<text x="372.90" y="662.70" font-size="6.8" text-anchor="middle" fill="#111" stroke="#111" font-weight="normal" stroke-width="0.1" >56</text>
<text x="388.05" y="662.70" font-size="6.8" text-anchor="middle" fill="#111" stroke="#111" font-weight="normal" stroke-width="0.1" >49</text>
<text x="403.20" y="662.70" font-size="6.8" text-anchor="middle" fill="#111" stroke="#111" font-weight="normal" stroke-width="0.1" >42</text>
<text x="418.35" y="662.70" font-size="6.8" text-anchor="middle" fill="#111" stroke="#111" font-weight="normal" stroke-width="0.1" >38</text>
<text x="433.50" y="662.70" font-size="6.8" text-anchor="middle" fill="#111" stroke="#111" font-weight="normal" stroke-width="0.1" >33</text>
<text x="448.65" y="662.70" font-size="6.8" text-anchor="middle" fill="#111" stroke="#111" font-weight="normal" stroke-width="0.1" >31</text>
<text x="463.80" y="662.70" font-size="6.8" text-anchor="middle" fill="#111" stroke="#111" font-weight="normal" stroke-width="0.1" >29</text>
<text x="478.95" y="662.70" font-size="6.8" text-anchor="middle" fill="#111" stroke="#111" font-weight="normal" stroke-width="0.1" >27</text>
<text x="494.10" y="662.70" font-size="6.8" text-anchor="middle" fill="#111" stroke="#111" font-weight="normal" stroke-width="0.1" >24</text>
<text x="509.25" y="662.70" font-size="6.8" text-anchor="middle" fill="#111" stroke="#111" font-weight="normal" stroke-width="0.1" >22</text>
<text x="423.45" y="687.00" font-size="8.6" text-anchor="middle" fill="#000" stroke="#000" font-weight="normal" stroke-width="0.22" textLength="77.5" lengthAdjust="spacingAndGlyphs">Time from diagnosis (months)</text>
<text transform="translate(288.70,652.30) rotate(-90)" x="0" y="0" font-size="9.6" font-weight="normal" stroke="#000" stroke-width="0.3" text-anchor="middle" textLength="11.7" lengthAdjust="spacingAndGlyphs">AGR</text>
<line x1="191.90" y1="11.00" x2="200.80" y2="11.00" stroke="#bb2347" stroke-width="1.2" />
<line x1="196.35" y1="9.80" x2="196.35" y2="12.20" stroke="#bb2347" stroke-width="0.8" />
<text x="203.80" y="13.60" font-size="6.5" text-anchor="start" fill="#111" stroke="#111" font-weight="normal" stroke-width="0.1" textLength="22.6" lengthAdjust="spacingAndGlyphs">Adverse</text>
<line x1="235.00" y1="11.00" x2="243.90" y2="11.00" stroke="#5270aa" stroke-width="1.2" />
<line x1="239.45" y1="9.80" x2="239.45" y2="12.20" stroke="#5270aa" stroke-width="0.8" />
<text x="247.10" y="13.60" font-size="6.5" text-anchor="start" fill="#111" stroke="#111" font-weight="normal" stroke-width="0.1" textLength="26.8" lengthAdjust="spacingAndGlyphs">Favorable</text>
<line x1="282.30" y1="11.00" x2="291.50" y2="11.00" stroke="#74b854" stroke-width="1.2" />
<line x1="286.90" y1="9.80" x2="286.90" y2="12.20" stroke="#74b854" stroke-width="0.8" />
<text x="294.40" y="13.60" font-size="6.5" text-anchor="start" fill="#111" stroke="#111" font-weight="normal" stroke-width="0.1" textLength="33.7" lengthAdjust="spacingAndGlyphs">Intermediate</text>
</svg></body></html>
